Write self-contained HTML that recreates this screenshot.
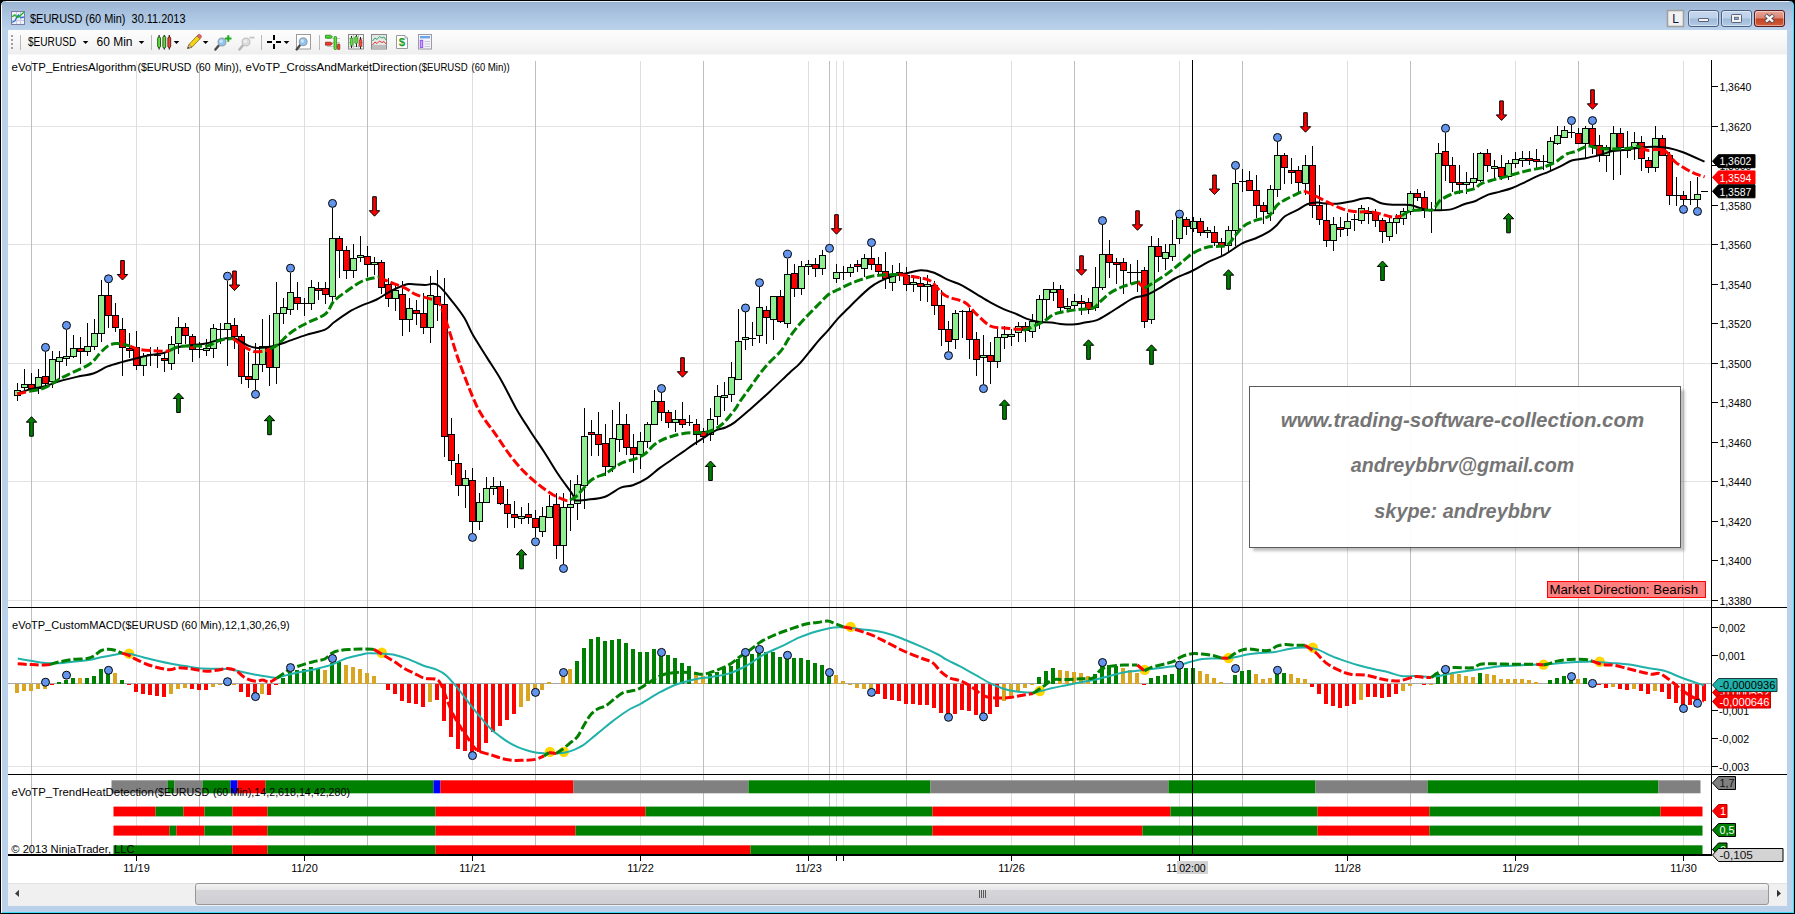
<!DOCTYPE html>
<html><head><meta charset="utf-8"><title>$EURUSD (60 Min)</title>
<style>html,body{margin:0;padding:0;background:#000;overflow:hidden}body{width:1795px;height:914px;font-family:"Liberation Sans",sans-serif}svg text{font-family:"Liberation Sans",sans-serif}</style>
</head><body>
<svg width="1795" height="914" viewBox="0 0 1795 914" style="display:block">
<defs>
<linearGradient id="gTitle" x1="0" y1="0" x2="0" y2="1"><stop offset="0" stop-color="#98b2d0"/><stop offset="0.45" stop-color="#a9c3e0"/><stop offset="1" stop-color="#bcd3ec"/></linearGradient>
<linearGradient id="gTool" x1="0" y1="0" x2="0" y2="1"><stop offset="0" stop-color="#fdfdfd"/><stop offset="0.5" stop-color="#f7f7f7"/><stop offset="1" stop-color="#eeeeee"/></linearGradient>
<linearGradient id="gBtn" x1="0" y1="0" x2="0" y2="1"><stop offset="0" stop-color="#c6d8ee"/><stop offset="0.48" stop-color="#bdd1ea"/><stop offset="0.52" stop-color="#9fbad8"/><stop offset="1" stop-color="#b4cbe6"/></linearGradient>
<linearGradient id="gClose" x1="0" y1="0" x2="0" y2="1"><stop offset="0" stop-color="#e8a898"/><stop offset="0.48" stop-color="#d98472"/><stop offset="0.52" stop-color="#c4421f"/><stop offset="1" stop-color="#d0603c"/></linearGradient>
<linearGradient id="gThumb" x1="0" y1="0" x2="0" y2="1"><stop offset="0" stop-color="#f4f4f4"/><stop offset="0.3" stop-color="#e6e6e8"/><stop offset="0.32" stop-color="#d6d6d9"/><stop offset="1" stop-color="#cfcfd3"/></linearGradient>
<filter id="blur1" x="-5%" y="-5%" width="110%" height="110%"><feGaussianBlur stdDeviation="1.5"/></filter>
<clipPath id="clipChart"><rect x="8" y="54" width="1704" height="802"/></clipPath>
</defs>
<rect x="0" y="0" width="1795" height="914" fill="#000"/>
<path d="M1,913 L1,6 Q1,1 6,1 L1789,1 Q1794,1 1794,6 L1794,913 Z" fill="#3bdcfa"/>
<path d="M1,912 L1,6 Q1,1 6,1 L1788,1 Q1793,1 1793,6 L1793,912 Z" fill="#b9d1ea"/>
<rect x="1" y="912" width="1793" height="1" fill="#3bdcfa" shape-rendering="crispEdges"/>
<rect x="1793" y="10" width="1" height="903" fill="#3bdcfa" shape-rendering="crispEdges"/>
<path d="M1,31 L1,6 Q1,1 6,1 L1788,1 Q1793,1 1793,6 L1793,31 Z" fill="url(#gTitle)"/>
<rect x="1793" y="10" width="1" height="22" fill="#3bdcfa" opacity="0.8" shape-rendering="crispEdges"/>
<rect x="6" y="1" width="1783" height="1" fill="#e4ecf5" shape-rendering="crispEdges"/>
<rect x="1" y="5" width="1" height="908" fill="#fbfdff" shape-rendering="crispEdges"/>
<rect x="8" y="30" width="1779" height="876" fill="#fff" shape-rendering="crispEdges"/>
<rect x="8" y="30" width="1779" height="24.5" fill="url(#gTool)"/>
<g shape-rendering="crispEdges"><rect x="11.5" y="11.5" width="13" height="13" fill="#eef0fa" stroke="#7c7ca0" stroke-width="1"/><path d="M12,16.5H24 M12,20.5H24 M16.5,12V24 M20.5,12V24" stroke="#c9cbe4" stroke-width="1"/></g><path d="M12,22.5 L15,20.8 L16.8,17 L18.5,15 L20.8,17.8 L24,17.2" fill="none" stroke="#2a6fd6" stroke-width="1.3"/><path d="M12,16.8 L14.8,14.8 L17.8,17.5 L20.5,15.2 L24,12.3" fill="none" stroke="#22b322" stroke-width="1.4"/>
<text x="30" y="22.7" font-size="12" fill="#000" textLength="155.5" lengthAdjust="spacingAndGlyphs" xml:space="preserve">$EURUSD (60 Min)  30.11.2013</text>
<rect x="1667.5" y="10.5" width="16" height="16" fill="#f0f0f0" stroke="#a0a0a0" stroke-width="1.6"/>
<text x="1675.5" y="23" font-size="12" fill="#101040" text-anchor="middle" >L</text>
<rect x="1688.5" y="10.5" width="30" height="16" rx="2.5" fill="url(#gBtn)" stroke="#4d5f7f" stroke-width="1"/>
<rect x="1689.5" y="11.5" width="28" height="14" rx="2" fill="none" stroke="#fff" stroke-opacity="0.45" stroke-width="1"/>
<rect x="1698.5" y="18.5" width="10" height="3" rx="0.5" fill="#f4f4f4" stroke="#4a556b" stroke-width="0.9"/>
<rect x="1721.5" y="10.5" width="30" height="16" rx="2.5" fill="url(#gBtn)" stroke="#4d5f7f" stroke-width="1"/>
<rect x="1722.5" y="11.5" width="28" height="14" rx="2" fill="none" stroke="#fff" stroke-opacity="0.45" stroke-width="1"/>
<rect x="1731.5" y="14.5" width="10" height="8" rx="0.8" fill="#f4f4f4" stroke="#4a556b" stroke-width="0.9"/><rect x="1734.5" y="17.2" width="4" height="2.4" fill="#8aa6c8" stroke="#4a556b" stroke-width="0.7"/>
<rect x="1754.5" y="10.5" width="30" height="16" rx="2.5" fill="url(#gClose)" stroke="#5a1a22" stroke-width="1"/>
<rect x="1755.5" y="11.5" width="28" height="14" rx="2" fill="none" stroke="#fff" stroke-opacity="0.45" stroke-width="1"/>
<path d="M1765.6,15 L1773.4,22 M1773.4,15 L1765.6,22" stroke="#4a4a55" stroke-width="4.2" stroke-linecap="butt"/><path d="M1766,15.4 L1773,21.6 M1773,15.4 L1766,21.6" stroke="#f6f6f6" stroke-width="2.5" stroke-linecap="butt"/>
<g fill="#a0a0a0" shape-rendering="crispEdges"><rect x="11" y="35" width="2" height="2"/><rect x="11" y="39" width="2" height="2"/><rect x="11" y="43" width="2" height="2"/><rect x="11" y="47" width="2" height="2"/></g>
<rect x="20" y="35" width="1" height="15" fill="#b8b8b8" shape-rendering="crispEdges"/>
<text x="28" y="45.7" font-size="12" fill="#000" textLength="48.2" lengthAdjust="spacingAndGlyphs" >$EURUSD</text>
<path d="M82.8,41 L88.39999999999999,41 L85.6,44 Z" fill="#000"/>
<text x="96.5" y="45.7" font-size="12" fill="#000" textLength="36" lengthAdjust="spacingAndGlyphs" >60 Min</text>
<path d="M138.7,41 L144.3,41 L141.5,44 Z" fill="#000"/>
<rect x="151" y="35" width="1" height="15" fill="#b8b8b8" shape-rendering="crispEdges"/>
<g><path d="M159.1,35V49.6 M164.3,35V49.6 M169.3,35V49.6" stroke="#222" stroke-width="1.2"/></g><rect x="157.7" y="37" width="2.8" height="10.5" rx="1.2" fill="#5fe03a" stroke="#1d4a10" stroke-width="0.9"/><rect x="162.9" y="36.2" width="2.8" height="11.8" rx="1.2" fill="#5fe03a" stroke="#1d4a10" stroke-width="0.9"/><rect x="167.9" y="37" width="2.8" height="10.5" rx="1.2" fill="#f04a3a" stroke="#5a1a10" stroke-width="0.9"/>
<path d="M173.7,41 L179.3,41 L176.5,44 Z" fill="#000"/>
<path d="M187.5,48.5 L189,44.5 L197,35.8 L200.2,38.6 L192,47.2 Z" fill="#f5d418" stroke="#8a6a10" stroke-width="0.8"/><path d="M197,35.8 L198.3,34.6 Q199.5,33.8 200.6,35 L201.4,36 Q201.8,37.2 200.2,38.6 Z" fill="#e86a6a" stroke="#8a3a3a" stroke-width="0.6"/><path d="M187.5,48.5 L189,44.5 L192,47.2 Z" fill="#e8c9a0" stroke="#6a5a40" stroke-width="0.6"/><path d="M187.5,48.5 L188.2,46.8 L189.3,47.8 Z" fill="#333"/>
<path d="M202.79999999999998,41 L208.4,41 L205.6,44 Z" fill="#000"/>
<path d="M219.4,44.8 L215.4,49.6" stroke="#4a4a4a" stroke-width="2.4" stroke-linecap="round"/>
<circle cx="222" cy="42" r="3.9" fill="#8cc4f4" stroke="#9aa4ae" stroke-width="1.3"/>
<circle cx="221.2" cy="41.2" r="1.7" fill="#fff" opacity="0.55"/>
<path d="M228.3,35.3V41.7 M225.1,38.5H231.5" stroke="#1cab1c" stroke-width="2"/>
<path d="M243.4,44.8 L239.4,49.6" stroke="#b4b4b4" stroke-width="2.4" stroke-linecap="round"/>
<circle cx="246" cy="42" r="3.9" fill="#dcdcdc" stroke="#c4c4c4" stroke-width="1.3"/>
<circle cx="245.2" cy="41.2" r="1.7" fill="#fff" opacity="0.55"/>
<path d="M249.5,37.6H254.5" stroke="#c4c4c4" stroke-width="1.8"/>
<rect x="261" y="35" width="1" height="15" fill="#b8b8b8" shape-rendering="crispEdges"/>
<path d="M274,35.2V40 M274,44V48.8 M267.2,42H272 M276,42H280.8" stroke="#000" stroke-width="2" shape-rendering="crispEdges"/>
<path d="M283.7,41 L289.3,41 L286.5,44 Z" fill="#000"/>
<rect x="296.5" y="34.5" width="14" height="14.5" fill="#fff" stroke="#9a9a9a" stroke-width="1"/>
<path d="M300.59999999999997,44.599999999999994 L296.59999999999997,49.4" stroke="#4a4a4a" stroke-width="2.4" stroke-linecap="round"/>
<circle cx="303.2" cy="41.8" r="3.9" fill="#8cc4f4" stroke="#9aa4ae" stroke-width="1.3"/>
<circle cx="302.4" cy="41.0" r="1.7" fill="#fff" opacity="0.55"/>
<rect x="319" y="35" width="1" height="15" fill="#b8b8b8" shape-rendering="crispEdges"/>
<g shape-rendering="crispEdges"><path d="M327,38.5H340 M327,42.5H340 M327,46.5H340" stroke="#c8c8c8" stroke-width="1"/></g><path d="M325.5,35.2 H330.5 L332.5,36.7 L330.5,38.2 H325.5 Z" fill="#40d62c" stroke="#1d7a10" stroke-width="0.7"/><path d="M325.5,42.2 H330.5 L332.5,43.7 L330.5,45.2 H325.5 Z" fill="#f03a2a" stroke="#8a1a10" stroke-width="0.7"/><rect x="334" y="36.5" width="2.6" height="13" rx="0.8" fill="#5fe03a" stroke="#1d7a10" stroke-width="0.7"/><rect x="337.6" y="44" width="2.2" height="5.5" rx="0.6" fill="#f04a3a" stroke="#8a1a10" stroke-width="0.7"/>
<rect x="348.5" y="34.5" width="15" height="14.5" fill="#f2f2f2" stroke="#8a8a8a" stroke-width="1"/><g shape-rendering="crispEdges"><path d="M349,38.5H363 M349,42.5H363 M349,46.5H363 M353.5,35V49 M358.5,35V49" stroke="#c4c4c4" stroke-width="1"/><path d="M351.5,36V48 M356,35V47 M360.5,37V49" stroke="#222" stroke-width="1"/></g><rect x="350.3" y="38" width="2.6" height="7.5" rx="0.8" fill="#5fe03a" stroke="#1d7a10" stroke-width="0.6"/><rect x="354.8" y="36.5" width="2.6" height="7" rx="0.8" fill="#5fe03a" stroke="#1d7a10" stroke-width="0.6"/><rect x="359.3" y="39.5" width="2.6" height="7" rx="0.8" fill="#f04a3a" stroke="#8a1a10" stroke-width="0.6"/>
<rect x="371.5" y="34.5" width="15" height="14.5" fill="#e6e6e6" stroke="#8a8a8a" stroke-width="1"/><rect x="372" y="45" width="14" height="3.5" fill="#bcbcbc"/><path d="M372.5,41 L375,38 L377,39.5 L379.5,36.5 L382,38 L384,37 L386,40" fill="none" stroke="#2db06a" stroke-width="1"/><path d="M372.5,45 L375,42 L377,43.5 L379.5,41 L382,42.5 L384,41.5 L386,44" fill="none" stroke="#e03a3a" stroke-width="1"/>
<path d="M396.5,35.5 H405 L407.5,38 V48.5 H396.5 Z" fill="#fff" stroke="#9a9a9a" stroke-width="1"/><path d="M405,35.5 V38 H407.5" fill="#e8e8e8" stroke="#9a9a9a" stroke-width="0.8"/>
<text x="402" y="46.3" font-size="11.5" fill="#1c9a1c" text-anchor="middle" font-weight="bold" >$</text>
<rect x="418.5" y="34.5" width="13" height="14.5" fill="#f4f4f8" stroke="#9a9aa8" stroke-width="1"/><rect x="420" y="36" width="10" height="2.4" fill="#6aa6e6"/><rect x="420.3" y="40.3" width="2.4" height="7.2" fill="#c8a8ff" stroke="#8a4af0" stroke-width="0.9"/><path d="M424.5,41.5H430 M424.5,44H430 M424.5,46.5H430" stroke="#c8c8d4" stroke-width="1"/>
<g shape-rendering="crispEdges">
<path d="M8,126.5H1711.5" stroke="#e2e2e2" stroke-width="1"/>
<path d="M8,244.5H1711.5" stroke="#e2e2e2" stroke-width="1"/>
<path d="M8,363.5H1711.5" stroke="#e2e2e2" stroke-width="1"/>
<path d="M8,481.5H1711.5" stroke="#e2e2e2" stroke-width="1"/>
<path d="M8,600.5H1711.5" stroke="#e2e2e2" stroke-width="1"/>
<path d="M8,683.5H1711.5" stroke="#a8a8a8" stroke-width="1"/>
<path d="M8,766.5H1711.5" stroke="#e2e2e2" stroke-width="1"/>
<path d="M136.5,61V854" stroke="#dedede" stroke-width="1"/>
<path d="M304.5,61V854" stroke="#dedede" stroke-width="1"/>
<path d="M472.5,61V854" stroke="#dedede" stroke-width="1"/>
<path d="M640.5,61V854" stroke="#dedede" stroke-width="1"/>
<path d="M808.5,61V854" stroke="#dedede" stroke-width="1"/>
<path d="M1011.5,61V854" stroke="#dedede" stroke-width="1"/>
<path d="M1179.5,61V854" stroke="#dedede" stroke-width="1"/>
<path d="M1347.5,61V854" stroke="#dedede" stroke-width="1"/>
<path d="M1515.5,61V854" stroke="#dedede" stroke-width="1"/>
<path d="M1683.5,61V854" stroke="#dedede" stroke-width="1"/>
<path d="M836.5,61V854" stroke="#dedede" stroke-width="1"/>
<path d="M843.5,61V854" stroke="#dedede" stroke-width="1"/>
<path d="M31.5,61V854" stroke="#bebebe" stroke-width="1"/>
<path d="M199.5,61V854" stroke="#bebebe" stroke-width="1"/>
<path d="M367.5,61V854" stroke="#bebebe" stroke-width="1"/>
<path d="M535.5,61V854" stroke="#bebebe" stroke-width="1"/>
<path d="M703.5,61V854" stroke="#bebebe" stroke-width="1"/>
<path d="M829.5,61V854" stroke="#bebebe" stroke-width="1"/>
<path d="M906.5,61V854" stroke="#bebebe" stroke-width="1"/>
<path d="M1074.5,61V854" stroke="#bebebe" stroke-width="1"/>
<path d="M1242.5,61V854" stroke="#bebebe" stroke-width="1"/>
<path d="M1410.5,61V854" stroke="#bebebe" stroke-width="1"/>
<path d="M1578.5,61V854" stroke="#bebebe" stroke-width="1"/>
</g>
<g id="price">
<g shape-rendering="crispEdges">
<path d="M17.5,383V401" stroke="#000" stroke-width="1"/>
<rect x="14.5" y="390.5" width="6" height="5.0" fill="#90ee90" stroke="#000" stroke-width="1"/>
<path d="M24.5,369V390" stroke="#000" stroke-width="1"/>
<rect x="21.5" y="384.5" width="6" height="3.0" fill="#90ee90" stroke="#000" stroke-width="1"/>
<path d="M31.5,373V392" stroke="#000" stroke-width="1"/>
<rect x="28.5" y="384.5" width="6" height="4.0" fill="#ff0000" stroke="#000" stroke-width="1"/>
<path d="M38.5,369V394" stroke="#000" stroke-width="1"/>
<rect x="35.5" y="377.5" width="6" height="11.0" fill="#90ee90" stroke="#000" stroke-width="1"/>
<path d="M45.5,352V388" stroke="#000" stroke-width="1"/>
<rect x="42.5" y="376.5" width="6" height="7.0" fill="#ff0000" stroke="#000" stroke-width="1"/>
<path d="M52.5,351V388" stroke="#000" stroke-width="1"/>
<rect x="49.5" y="359.5" width="6" height="22.0" fill="#90ee90" stroke="#000" stroke-width="1"/>
<path d="M59.5,351V379" stroke="#000" stroke-width="1"/>
<rect x="56.5" y="357.5" width="6" height="4.0" fill="#90ee90" stroke="#000" stroke-width="1"/>
<path d="M66.5,330V366" stroke="#000" stroke-width="1"/>
<rect x="63.5" y="356.5" width="6" height="2.0" fill="#90ee90" stroke="#000" stroke-width="1"/>
<path d="M73.5,335V358" stroke="#000" stroke-width="1"/>
<rect x="70.5" y="348.5" width="6" height="8.0" fill="#90ee90" stroke="#000" stroke-width="1"/>
<path d="M80.5,337V364" stroke="#000" stroke-width="1"/>
<rect x="77.5" y="348.5" width="6" height="3.0" fill="#ff0000" stroke="#000" stroke-width="1"/>
<path d="M87.5,323V356" stroke="#000" stroke-width="1"/>
<rect x="84.5" y="346.5" width="6" height="5.0" fill="#90ee90" stroke="#000" stroke-width="1"/>
<path d="M94.5,319V350" stroke="#000" stroke-width="1"/>
<rect x="91.5" y="333.5" width="6" height="13.0" fill="#90ee90" stroke="#000" stroke-width="1"/>
<path d="M101.5,280V342" stroke="#000" stroke-width="1"/>
<rect x="98.5" y="295.5" width="6" height="38.0" fill="#90ee90" stroke="#000" stroke-width="1"/>
<path d="M108.5,283V328" stroke="#000" stroke-width="1"/>
<rect x="105.5" y="295.5" width="6" height="20.0" fill="#ff0000" stroke="#000" stroke-width="1"/>
<path d="M115.5,303V332" stroke="#000" stroke-width="1"/>
<rect x="112.5" y="315.5" width="6" height="12.0" fill="#ff0000" stroke="#000" stroke-width="1"/>
<path d="M122.5,318V376" stroke="#000" stroke-width="1"/>
<rect x="119.5" y="329.5" width="6" height="18.0" fill="#ff0000" stroke="#000" stroke-width="1"/>
<path d="M129.5,333V358" stroke="#000" stroke-width="1"/>
<rect x="126.5" y="348.5" width="6" height="2.0" fill="#ff0000" stroke="#000" stroke-width="1"/>
<path d="M136.5,331V370" stroke="#000" stroke-width="1"/>
<rect x="133.5" y="347.5" width="6" height="18.0" fill="#ff0000" stroke="#000" stroke-width="1"/>
<path d="M143.5,353V376" stroke="#000" stroke-width="1"/>
<rect x="140.5" y="356.5" width="6" height="9.0" fill="#90ee90" stroke="#000" stroke-width="1"/>
<path d="M150.5,347V366" stroke="#000" stroke-width="1"/>
<path d="M147.0,354.5H154.0" stroke="#000" stroke-width="1"/>
<path d="M157.5,347V368" stroke="#000" stroke-width="1"/>
<path d="M154.0,355.5H161.0" stroke="#000" stroke-width="1"/>
<path d="M164.5,352V372" stroke="#000" stroke-width="1"/>
<rect x="161.5" y="358.5" width="6" height="2.0" fill="#ff0000" stroke="#000" stroke-width="1"/>
<path d="M171.5,336V370" stroke="#000" stroke-width="1"/>
<rect x="168.5" y="344.5" width="6" height="19.0" fill="#90ee90" stroke="#000" stroke-width="1"/>
<path d="M178.5,317V354" stroke="#000" stroke-width="1"/>
<rect x="175.5" y="327.5" width="6" height="16.0" fill="#90ee90" stroke="#000" stroke-width="1"/>
<path d="M185.5,323V344" stroke="#000" stroke-width="1"/>
<rect x="182.5" y="327.5" width="6" height="8.0" fill="#ff0000" stroke="#000" stroke-width="1"/>
<path d="M192.5,334V362" stroke="#000" stroke-width="1"/>
<rect x="189.5" y="336.5" width="6" height="13.0" fill="#ff0000" stroke="#000" stroke-width="1"/>
<path d="M199.5,342V358" stroke="#000" stroke-width="1"/>
<path d="M196.0,349.5H203.0" stroke="#000" stroke-width="1"/>
<path d="M206.5,339V356" stroke="#000" stroke-width="1"/>
<rect x="203.5" y="348.5" width="6" height="2.0" fill="#90ee90" stroke="#000" stroke-width="1"/>
<path d="M213.5,324V358" stroke="#000" stroke-width="1"/>
<rect x="210.5" y="328.5" width="6" height="20.0" fill="#90ee90" stroke="#000" stroke-width="1"/>
<path d="M220.5,323V344" stroke="#000" stroke-width="1"/>
<path d="M217.0,329.5H224.0" stroke="#000" stroke-width="1"/>
<path d="M227.5,281V366" stroke="#000" stroke-width="1"/>
<rect x="224.5" y="323.5" width="6" height="6.0" fill="#90ee90" stroke="#000" stroke-width="1"/>
<path d="M234.5,318V349" stroke="#000" stroke-width="1"/>
<rect x="231.5" y="325.5" width="6" height="11.0" fill="#ff0000" stroke="#000" stroke-width="1"/>
<path d="M241.5,334V384" stroke="#000" stroke-width="1"/>
<rect x="238.5" y="336.5" width="6" height="40.0" fill="#ff0000" stroke="#000" stroke-width="1"/>
<path d="M248.5,352V388" stroke="#000" stroke-width="1"/>
<rect x="245.5" y="376.5" width="6" height="3.0" fill="#ff0000" stroke="#000" stroke-width="1"/>
<path d="M255.5,343V390" stroke="#000" stroke-width="1"/>
<rect x="252.5" y="364.5" width="6" height="15.0" fill="#90ee90" stroke="#000" stroke-width="1"/>
<path d="M262.5,319V372" stroke="#000" stroke-width="1"/>
<rect x="259.5" y="346.5" width="6" height="18.0" fill="#90ee90" stroke="#000" stroke-width="1"/>
<path d="M269.5,315V386" stroke="#000" stroke-width="1"/>
<rect x="266.5" y="346.5" width="6" height="21.0" fill="#ff0000" stroke="#000" stroke-width="1"/>
<path d="M276.5,282V384" stroke="#000" stroke-width="1"/>
<rect x="273.5" y="313.5" width="6" height="54.0" fill="#90ee90" stroke="#000" stroke-width="1"/>
<path d="M283.5,298V324" stroke="#000" stroke-width="1"/>
<rect x="280.5" y="307.5" width="6" height="6.0" fill="#90ee90" stroke="#000" stroke-width="1"/>
<path d="M290.5,273V315" stroke="#000" stroke-width="1"/>
<rect x="287.5" y="292.5" width="6" height="17.0" fill="#90ee90" stroke="#000" stroke-width="1"/>
<path d="M297.5,282V310" stroke="#000" stroke-width="1"/>
<rect x="294.5" y="297.5" width="6" height="6.0" fill="#ff0000" stroke="#000" stroke-width="1"/>
<path d="M304.5,298V316" stroke="#000" stroke-width="1"/>
<path d="M301.0,303.5H308.0" stroke="#000" stroke-width="1"/>
<path d="M311.5,280V310" stroke="#000" stroke-width="1"/>
<rect x="308.5" y="287.5" width="6" height="16.0" fill="#90ee90" stroke="#000" stroke-width="1"/>
<path d="M318.5,282V300" stroke="#000" stroke-width="1"/>
<rect x="315.5" y="288.5" width="6" height="2.0" fill="#ff0000" stroke="#000" stroke-width="1"/>
<path d="M325.5,282V304" stroke="#000" stroke-width="1"/>
<rect x="322.5" y="288.5" width="6" height="6.0" fill="#ff0000" stroke="#000" stroke-width="1"/>
<path d="M332.5,208V302" stroke="#000" stroke-width="1"/>
<rect x="329.5" y="238.5" width="6" height="58.0" fill="#90ee90" stroke="#000" stroke-width="1"/>
<path d="M339.5,236V278" stroke="#000" stroke-width="1"/>
<rect x="336.5" y="238.5" width="6" height="12.0" fill="#ff0000" stroke="#000" stroke-width="1"/>
<path d="M346.5,246V279" stroke="#000" stroke-width="1"/>
<rect x="343.5" y="250.5" width="6" height="20.0" fill="#ff0000" stroke="#000" stroke-width="1"/>
<path d="M353.5,244V278" stroke="#000" stroke-width="1"/>
<rect x="350.5" y="258.5" width="6" height="12.0" fill="#90ee90" stroke="#000" stroke-width="1"/>
<path d="M360.5,236V262" stroke="#000" stroke-width="1"/>
<rect x="357.5" y="255.5" width="6" height="2.0" fill="#90ee90" stroke="#000" stroke-width="1"/>
<path d="M367.5,246V277" stroke="#000" stroke-width="1"/>
<rect x="364.5" y="256.5" width="6" height="8.0" fill="#ff0000" stroke="#000" stroke-width="1"/>
<path d="M374.5,257V275" stroke="#000" stroke-width="1"/>
<rect x="371.5" y="262.5" width="6" height="2.0" fill="#90ee90" stroke="#000" stroke-width="1"/>
<path d="M381.5,260V294" stroke="#000" stroke-width="1"/>
<rect x="378.5" y="262.5" width="6" height="25.0" fill="#ff0000" stroke="#000" stroke-width="1"/>
<path d="M388.5,278V307" stroke="#000" stroke-width="1"/>
<rect x="385.5" y="284.5" width="6" height="14.0" fill="#ff0000" stroke="#000" stroke-width="1"/>
<path d="M395.5,285V311" stroke="#000" stroke-width="1"/>
<rect x="392.5" y="290.5" width="6" height="8.0" fill="#90ee90" stroke="#000" stroke-width="1"/>
<path d="M402.5,281V336" stroke="#000" stroke-width="1"/>
<rect x="399.5" y="294.5" width="6" height="25.0" fill="#ff0000" stroke="#000" stroke-width="1"/>
<path d="M409.5,298V332" stroke="#000" stroke-width="1"/>
<rect x="406.5" y="308.5" width="6" height="11.0" fill="#90ee90" stroke="#000" stroke-width="1"/>
<path d="M416.5,300V325" stroke="#000" stroke-width="1"/>
<rect x="413.5" y="310.5" width="6" height="3.0" fill="#ff0000" stroke="#000" stroke-width="1"/>
<path d="M423.5,293V334" stroke="#000" stroke-width="1"/>
<rect x="420.5" y="313.5" width="6" height="14.0" fill="#ff0000" stroke="#000" stroke-width="1"/>
<path d="M430.5,276V343" stroke="#000" stroke-width="1"/>
<rect x="427.5" y="295.5" width="6" height="32.0" fill="#90ee90" stroke="#000" stroke-width="1"/>
<path d="M437.5,270V321" stroke="#000" stroke-width="1"/>
<rect x="434.5" y="296.5" width="6" height="8.0" fill="#ff0000" stroke="#000" stroke-width="1"/>
<path d="M444.5,278V457" stroke="#000" stroke-width="1"/>
<rect x="441.5" y="304.5" width="6" height="132.0" fill="#ff0000" stroke="#000" stroke-width="1"/>
<path d="M451.5,418V475" stroke="#000" stroke-width="1"/>
<rect x="448.5" y="434.5" width="6" height="26.0" fill="#ff0000" stroke="#000" stroke-width="1"/>
<path d="M458.5,454V496" stroke="#000" stroke-width="1"/>
<rect x="455.5" y="463.5" width="6" height="22.0" fill="#ff0000" stroke="#000" stroke-width="1"/>
<path d="M465.5,470V508" stroke="#000" stroke-width="1"/>
<rect x="462.5" y="478.5" width="6" height="7.0" fill="#90ee90" stroke="#000" stroke-width="1"/>
<path d="M472.5,468V533" stroke="#000" stroke-width="1"/>
<rect x="469.5" y="480.5" width="6" height="41.0" fill="#ff0000" stroke="#000" stroke-width="1"/>
<path d="M479.5,493V530" stroke="#000" stroke-width="1"/>
<rect x="476.5" y="502.5" width="6" height="19.0" fill="#90ee90" stroke="#000" stroke-width="1"/>
<path d="M486.5,477V503" stroke="#000" stroke-width="1"/>
<rect x="483.5" y="488.5" width="6" height="14.0" fill="#90ee90" stroke="#000" stroke-width="1"/>
<path d="M493.5,477V495" stroke="#000" stroke-width="1"/>
<rect x="490.5" y="486.5" width="6" height="2.0" fill="#90ee90" stroke="#000" stroke-width="1"/>
<path d="M500.5,481V505" stroke="#000" stroke-width="1"/>
<rect x="497.5" y="486.5" width="6" height="17.0" fill="#ff0000" stroke="#000" stroke-width="1"/>
<path d="M507.5,489V528" stroke="#000" stroke-width="1"/>
<rect x="504.5" y="504.5" width="6" height="9.0" fill="#ff0000" stroke="#000" stroke-width="1"/>
<path d="M514.5,501V528" stroke="#000" stroke-width="1"/>
<rect x="511.5" y="514.5" width="6" height="3.0" fill="#ff0000" stroke="#000" stroke-width="1"/>
<path d="M521.5,507V524" stroke="#000" stroke-width="1"/>
<rect x="518.5" y="516.5" width="6" height="2.0" fill="#90ee90" stroke="#000" stroke-width="1"/>
<path d="M528.5,503V524" stroke="#000" stroke-width="1"/>
<rect x="525.5" y="514.5" width="6" height="3.0" fill="#ff0000" stroke="#000" stroke-width="1"/>
<path d="M535.5,510V537" stroke="#000" stroke-width="1"/>
<rect x="532.5" y="518.5" width="6" height="9.0" fill="#ff0000" stroke="#000" stroke-width="1"/>
<path d="M542.5,507V537" stroke="#000" stroke-width="1"/>
<rect x="539.5" y="516.5" width="6" height="15.0" fill="#90ee90" stroke="#000" stroke-width="1"/>
<path d="M549.5,495V518" stroke="#000" stroke-width="1"/>
<rect x="546.5" y="506.5" width="6" height="11.0" fill="#90ee90" stroke="#000" stroke-width="1"/>
<path d="M556.5,493V559" stroke="#000" stroke-width="1"/>
<rect x="553.5" y="504.5" width="6" height="41.0" fill="#ff0000" stroke="#000" stroke-width="1"/>
<path d="M563.5,493V564" stroke="#000" stroke-width="1"/>
<rect x="560.5" y="507.5" width="6" height="38.0" fill="#90ee90" stroke="#000" stroke-width="1"/>
<path d="M570.5,480V531" stroke="#000" stroke-width="1"/>
<rect x="567.5" y="504.5" width="6" height="3.0" fill="#90ee90" stroke="#000" stroke-width="1"/>
<path d="M577.5,475V520" stroke="#000" stroke-width="1"/>
<rect x="574.5" y="484.5" width="6" height="19.0" fill="#90ee90" stroke="#000" stroke-width="1"/>
<path d="M584.5,408V509" stroke="#000" stroke-width="1"/>
<rect x="581.5" y="436.5" width="6" height="49.0" fill="#90ee90" stroke="#000" stroke-width="1"/>
<path d="M591.5,420V456" stroke="#000" stroke-width="1"/>
<rect x="588.5" y="432.5" width="6" height="2.0" fill="#ff0000" stroke="#000" stroke-width="1"/>
<path d="M598.5,412V456" stroke="#000" stroke-width="1"/>
<rect x="595.5" y="434.5" width="6" height="10.0" fill="#ff0000" stroke="#000" stroke-width="1"/>
<path d="M605.5,424V476" stroke="#000" stroke-width="1"/>
<rect x="602.5" y="443.5" width="6" height="23.0" fill="#ff0000" stroke="#000" stroke-width="1"/>
<path d="M612.5,410V472" stroke="#000" stroke-width="1"/>
<rect x="609.5" y="438.5" width="6" height="28.0" fill="#90ee90" stroke="#000" stroke-width="1"/>
<path d="M619.5,402V452" stroke="#000" stroke-width="1"/>
<rect x="616.5" y="424.5" width="6" height="15.0" fill="#90ee90" stroke="#000" stroke-width="1"/>
<path d="M626.5,414V455" stroke="#000" stroke-width="1"/>
<rect x="623.5" y="424.5" width="6" height="23.0" fill="#ff0000" stroke="#000" stroke-width="1"/>
<path d="M633.5,434V473" stroke="#000" stroke-width="1"/>
<rect x="630.5" y="447.5" width="6" height="7.0" fill="#ff0000" stroke="#000" stroke-width="1"/>
<path d="M640.5,432V469" stroke="#000" stroke-width="1"/>
<rect x="637.5" y="441.5" width="6" height="13.0" fill="#90ee90" stroke="#000" stroke-width="1"/>
<path d="M647.5,422V448" stroke="#000" stroke-width="1"/>
<rect x="644.5" y="424.5" width="6" height="17.0" fill="#90ee90" stroke="#000" stroke-width="1"/>
<path d="M654.5,390V425" stroke="#000" stroke-width="1"/>
<rect x="651.5" y="401.5" width="6" height="23.0" fill="#90ee90" stroke="#000" stroke-width="1"/>
<path d="M661.5,393V421" stroke="#000" stroke-width="1"/>
<rect x="658.5" y="401.5" width="6" height="11.0" fill="#ff0000" stroke="#000" stroke-width="1"/>
<path d="M668.5,410V428" stroke="#000" stroke-width="1"/>
<rect x="665.5" y="412.5" width="6" height="10.0" fill="#ff0000" stroke="#000" stroke-width="1"/>
<path d="M675.5,410V432" stroke="#000" stroke-width="1"/>
<rect x="672.5" y="419.5" width="6" height="3.0" fill="#90ee90" stroke="#000" stroke-width="1"/>
<path d="M682.5,402V428" stroke="#000" stroke-width="1"/>
<rect x="679.5" y="419.5" width="6" height="5.0" fill="#ff0000" stroke="#000" stroke-width="1"/>
<path d="M689.5,415V426" stroke="#000" stroke-width="1"/>
<path d="M686.0,422.5H693.0" stroke="#000" stroke-width="1"/>
<path d="M696.5,419V445" stroke="#000" stroke-width="1"/>
<rect x="693.5" y="424.5" width="6" height="10.0" fill="#ff0000" stroke="#000" stroke-width="1"/>
<path d="M703.5,428V443" stroke="#000" stroke-width="1"/>
<rect x="700.5" y="431.5" width="6" height="5.0" fill="#ff0000" stroke="#000" stroke-width="1"/>
<path d="M710.5,408V441" stroke="#000" stroke-width="1"/>
<rect x="707.5" y="419.5" width="6" height="15.0" fill="#90ee90" stroke="#000" stroke-width="1"/>
<path d="M717.5,385V425" stroke="#000" stroke-width="1"/>
<rect x="714.5" y="396.5" width="6" height="20.0" fill="#90ee90" stroke="#000" stroke-width="1"/>
<path d="M724.5,382V411" stroke="#000" stroke-width="1"/>
<rect x="721.5" y="395.5" width="6" height="2.0" fill="#90ee90" stroke="#000" stroke-width="1"/>
<path d="M731.5,362V402" stroke="#000" stroke-width="1"/>
<rect x="728.5" y="377.5" width="6" height="17.0" fill="#90ee90" stroke="#000" stroke-width="1"/>
<path d="M738.5,309V380" stroke="#000" stroke-width="1"/>
<rect x="735.5" y="341.5" width="6" height="38.0" fill="#90ee90" stroke="#000" stroke-width="1"/>
<path d="M745.5,312V350" stroke="#000" stroke-width="1"/>
<rect x="742.5" y="337.5" width="6" height="2.0" fill="#90ee90" stroke="#000" stroke-width="1"/>
<path d="M752.5,322V346" stroke="#000" stroke-width="1"/>
<path d="M749.0,338.5H756.0" stroke="#000" stroke-width="1"/>
<path d="M759.5,287V343" stroke="#000" stroke-width="1"/>
<rect x="756.5" y="307.5" width="6" height="28.0" fill="#90ee90" stroke="#000" stroke-width="1"/>
<path d="M766.5,306V344" stroke="#000" stroke-width="1"/>
<rect x="763.5" y="310.5" width="6" height="7.0" fill="#ff0000" stroke="#000" stroke-width="1"/>
<path d="M773.5,296V340" stroke="#000" stroke-width="1"/>
<rect x="770.5" y="296.5" width="6" height="23.0" fill="#90ee90" stroke="#000" stroke-width="1"/>
<path d="M780.5,290V323" stroke="#000" stroke-width="1"/>
<rect x="777.5" y="296.5" width="6" height="25.0" fill="#ff0000" stroke="#000" stroke-width="1"/>
<path d="M787.5,259V328" stroke="#000" stroke-width="1"/>
<rect x="784.5" y="274.5" width="6" height="49.0" fill="#90ee90" stroke="#000" stroke-width="1"/>
<path d="M794.5,264V297" stroke="#000" stroke-width="1"/>
<rect x="791.5" y="273.5" width="6" height="15.0" fill="#ff0000" stroke="#000" stroke-width="1"/>
<path d="M801.5,261V295" stroke="#000" stroke-width="1"/>
<rect x="798.5" y="266.5" width="6" height="22.0" fill="#90ee90" stroke="#000" stroke-width="1"/>
<path d="M808.5,260V275" stroke="#000" stroke-width="1"/>
<rect x="805.5" y="264.5" width="6" height="2.0" fill="#90ee90" stroke="#000" stroke-width="1"/>
<path d="M815.5,258V277" stroke="#000" stroke-width="1"/>
<rect x="812.5" y="264.5" width="6" height="4.0" fill="#ff0000" stroke="#000" stroke-width="1"/>
<path d="M822.5,250V275" stroke="#000" stroke-width="1"/>
<rect x="819.5" y="255.5" width="6" height="13.0" fill="#90ee90" stroke="#000" stroke-width="1"/>
<path d="M836.5,264V283" stroke="#000" stroke-width="1"/>
<rect x="833.5" y="272.5" width="6" height="6.0" fill="#90ee90" stroke="#000" stroke-width="1"/>
<path d="M843.5,266V280" stroke="#000" stroke-width="1"/>
<path d="M840.0,272.5H847.0" stroke="#000" stroke-width="1"/>
<path d="M850.5,264V277" stroke="#000" stroke-width="1"/>
<rect x="847.5" y="267.5" width="6" height="5.0" fill="#90ee90" stroke="#000" stroke-width="1"/>
<path d="M857.5,260V272" stroke="#000" stroke-width="1"/>
<rect x="854.5" y="264.5" width="6" height="2.0" fill="#ff0000" stroke="#000" stroke-width="1"/>
<path d="M864.5,254V277" stroke="#000" stroke-width="1"/>
<rect x="861.5" y="258.5" width="6" height="10.0" fill="#90ee90" stroke="#000" stroke-width="1"/>
<path d="M871.5,247V270" stroke="#000" stroke-width="1"/>
<rect x="868.5" y="258.5" width="6" height="6.0" fill="#ff0000" stroke="#000" stroke-width="1"/>
<path d="M878.5,257V274" stroke="#000" stroke-width="1"/>
<rect x="875.5" y="264.5" width="6" height="7.0" fill="#ff0000" stroke="#000" stroke-width="1"/>
<path d="M885.5,252V289" stroke="#000" stroke-width="1"/>
<rect x="882.5" y="271.5" width="6" height="7.0" fill="#ff0000" stroke="#000" stroke-width="1"/>
<path d="M892.5,265V291" stroke="#000" stroke-width="1"/>
<rect x="889.5" y="274.5" width="6" height="8.0" fill="#90ee90" stroke="#000" stroke-width="1"/>
<path d="M899.5,263V281" stroke="#000" stroke-width="1"/>
<rect x="896.5" y="272.5" width="6" height="3.0" fill="#ff0000" stroke="#000" stroke-width="1"/>
<path d="M906.5,267V291" stroke="#000" stroke-width="1"/>
<rect x="903.5" y="275.5" width="6" height="9.0" fill="#ff0000" stroke="#000" stroke-width="1"/>
<path d="M913.5,275V292" stroke="#000" stroke-width="1"/>
<rect x="910.5" y="282.5" width="6" height="2.0" fill="#90ee90" stroke="#000" stroke-width="1"/>
<path d="M920.5,277V301" stroke="#000" stroke-width="1"/>
<rect x="917.5" y="283.5" width="6" height="3.0" fill="#ff0000" stroke="#000" stroke-width="1"/>
<path d="M927.5,275V302" stroke="#000" stroke-width="1"/>
<rect x="924.5" y="284.5" width="6" height="2.0" fill="#90ee90" stroke="#000" stroke-width="1"/>
<path d="M934.5,281V315" stroke="#000" stroke-width="1"/>
<rect x="931.5" y="285.5" width="6" height="20.0" fill="#ff0000" stroke="#000" stroke-width="1"/>
<path d="M941.5,290V346" stroke="#000" stroke-width="1"/>
<rect x="938.5" y="305.5" width="6" height="24.0" fill="#ff0000" stroke="#000" stroke-width="1"/>
<path d="M948.5,321V351" stroke="#000" stroke-width="1"/>
<rect x="945.5" y="329.5" width="6" height="12.0" fill="#ff0000" stroke="#000" stroke-width="1"/>
<path d="M955.5,310V349" stroke="#000" stroke-width="1"/>
<rect x="952.5" y="313.5" width="6" height="26.0" fill="#90ee90" stroke="#000" stroke-width="1"/>
<path d="M962.5,310V338" stroke="#000" stroke-width="1"/>
<path d="M959.0,311.5H966.0" stroke="#000" stroke-width="1"/>
<path d="M969.5,308V359" stroke="#000" stroke-width="1"/>
<rect x="966.5" y="311.5" width="6" height="28.0" fill="#ff0000" stroke="#000" stroke-width="1"/>
<path d="M976.5,332V376" stroke="#000" stroke-width="1"/>
<rect x="973.5" y="339.5" width="6" height="20.0" fill="#ff0000" stroke="#000" stroke-width="1"/>
<path d="M983.5,335V384" stroke="#000" stroke-width="1"/>
<rect x="980.5" y="355.5" width="6" height="2.0" fill="#90ee90" stroke="#000" stroke-width="1"/>
<path d="M990.5,342V384" stroke="#000" stroke-width="1"/>
<rect x="987.5" y="355.5" width="6" height="6.0" fill="#ff0000" stroke="#000" stroke-width="1"/>
<path d="M997.5,329V368" stroke="#000" stroke-width="1"/>
<rect x="994.5" y="337.5" width="6" height="24.0" fill="#90ee90" stroke="#000" stroke-width="1"/>
<path d="M1004.5,326V349" stroke="#000" stroke-width="1"/>
<rect x="1001.5" y="334.5" width="6" height="3.0" fill="#90ee90" stroke="#000" stroke-width="1"/>
<path d="M1011.5,329V346" stroke="#000" stroke-width="1"/>
<rect x="1008.5" y="334.5" width="6" height="2.0" fill="#90ee90" stroke="#000" stroke-width="1"/>
<path d="M1018.5,322V342" stroke="#000" stroke-width="1"/>
<rect x="1015.5" y="326.5" width="6" height="6.0" fill="#90ee90" stroke="#000" stroke-width="1"/>
<path d="M1025.5,322V342" stroke="#000" stroke-width="1"/>
<rect x="1022.5" y="326.5" width="6" height="4.0" fill="#ff0000" stroke="#000" stroke-width="1"/>
<path d="M1032.5,314V338" stroke="#000" stroke-width="1"/>
<rect x="1029.5" y="321.5" width="6" height="10.0" fill="#90ee90" stroke="#000" stroke-width="1"/>
<path d="M1039.5,295V329" stroke="#000" stroke-width="1"/>
<rect x="1036.5" y="299.5" width="6" height="23.0" fill="#90ee90" stroke="#000" stroke-width="1"/>
<path d="M1046.5,289V318" stroke="#000" stroke-width="1"/>
<rect x="1043.5" y="289.5" width="6" height="10.0" fill="#90ee90" stroke="#000" stroke-width="1"/>
<path d="M1053.5,282V301" stroke="#000" stroke-width="1"/>
<rect x="1050.5" y="289.5" width="6" height="3.0" fill="#90ee90" stroke="#000" stroke-width="1"/>
<path d="M1060.5,285V311" stroke="#000" stroke-width="1"/>
<rect x="1057.5" y="289.5" width="6" height="18.0" fill="#ff0000" stroke="#000" stroke-width="1"/>
<path d="M1067.5,298V312" stroke="#000" stroke-width="1"/>
<rect x="1064.5" y="306.5" width="6" height="2.0" fill="#90ee90" stroke="#000" stroke-width="1"/>
<path d="M1074.5,294V309" stroke="#000" stroke-width="1"/>
<rect x="1071.5" y="301.5" width="6" height="4.0" fill="#90ee90" stroke="#000" stroke-width="1"/>
<path d="M1081.5,295V315" stroke="#000" stroke-width="1"/>
<rect x="1078.5" y="301.5" width="6" height="2.0" fill="#ff0000" stroke="#000" stroke-width="1"/>
<path d="M1088.5,298V314" stroke="#000" stroke-width="1"/>
<rect x="1085.5" y="302.5" width="6" height="7.0" fill="#ff0000" stroke="#000" stroke-width="1"/>
<path d="M1095.5,267V311" stroke="#000" stroke-width="1"/>
<rect x="1092.5" y="287.5" width="6" height="20.0" fill="#90ee90" stroke="#000" stroke-width="1"/>
<path d="M1102.5,225V290" stroke="#000" stroke-width="1"/>
<rect x="1099.5" y="254.5" width="6" height="33.0" fill="#90ee90" stroke="#000" stroke-width="1"/>
<path d="M1109.5,240V278" stroke="#000" stroke-width="1"/>
<rect x="1106.5" y="254.5" width="6" height="8.0" fill="#ff0000" stroke="#000" stroke-width="1"/>
<path d="M1116.5,258V284" stroke="#000" stroke-width="1"/>
<rect x="1113.5" y="262.5" width="6" height="2.0" fill="#ff0000" stroke="#000" stroke-width="1"/>
<path d="M1123.5,258V294" stroke="#000" stroke-width="1"/>
<rect x="1120.5" y="262.5" width="6" height="8.0" fill="#ff0000" stroke="#000" stroke-width="1"/>
<path d="M1130.5,264V284" stroke="#000" stroke-width="1"/>
<path d="M1127.0,272.5H1134.0" stroke="#000" stroke-width="1"/>
<path d="M1137.5,260V292" stroke="#000" stroke-width="1"/>
<path d="M1134.0,272.5H1141.0" stroke="#000" stroke-width="1"/>
<path d="M1144.5,267V328" stroke="#000" stroke-width="1"/>
<rect x="1141.5" y="270.5" width="6" height="51.0" fill="#ff0000" stroke="#000" stroke-width="1"/>
<path d="M1151.5,236V324" stroke="#000" stroke-width="1"/>
<rect x="1148.5" y="246.5" width="6" height="73.0" fill="#90ee90" stroke="#000" stroke-width="1"/>
<path d="M1158.5,238V272" stroke="#000" stroke-width="1"/>
<rect x="1155.5" y="246.5" width="6" height="10.0" fill="#ff0000" stroke="#000" stroke-width="1"/>
<path d="M1165.5,244V270" stroke="#000" stroke-width="1"/>
<rect x="1162.5" y="252.5" width="6" height="6.0" fill="#90ee90" stroke="#000" stroke-width="1"/>
<path d="M1172.5,220V261" stroke="#000" stroke-width="1"/>
<rect x="1169.5" y="244.5" width="6" height="12.0" fill="#90ee90" stroke="#000" stroke-width="1"/>
<path d="M1179.5,214V244" stroke="#000" stroke-width="1"/>
<rect x="1176.5" y="217.5" width="6" height="21.0" fill="#90ee90" stroke="#000" stroke-width="1"/>
<path d="M1186.5,217V235" stroke="#000" stroke-width="1"/>
<rect x="1183.5" y="219.5" width="6" height="7.0" fill="#ff0000" stroke="#000" stroke-width="1"/>
<path d="M1193.5,217V232" stroke="#000" stroke-width="1"/>
<rect x="1190.5" y="221.5" width="6" height="7.0" fill="#90ee90" stroke="#000" stroke-width="1"/>
<path d="M1200.5,218V236" stroke="#000" stroke-width="1"/>
<rect x="1197.5" y="221.5" width="6" height="11.0" fill="#ff0000" stroke="#000" stroke-width="1"/>
<path d="M1207.5,227V238" stroke="#000" stroke-width="1"/>
<rect x="1204.5" y="230.5" width="6" height="2.0" fill="#90ee90" stroke="#000" stroke-width="1"/>
<path d="M1214.5,226V246" stroke="#000" stroke-width="1"/>
<rect x="1211.5" y="232.5" width="6" height="10.0" fill="#ff0000" stroke="#000" stroke-width="1"/>
<path d="M1221.5,238V255" stroke="#000" stroke-width="1"/>
<rect x="1218.5" y="242.5" width="6" height="3.0" fill="#ff0000" stroke="#000" stroke-width="1"/>
<path d="M1228.5,226V252" stroke="#000" stroke-width="1"/>
<rect x="1225.5" y="230.5" width="6" height="15.0" fill="#90ee90" stroke="#000" stroke-width="1"/>
<path d="M1235.5,170V246" stroke="#000" stroke-width="1"/>
<rect x="1232.5" y="183.5" width="6" height="47.0" fill="#90ee90" stroke="#000" stroke-width="1"/>
<path d="M1242.5,169V192" stroke="#000" stroke-width="1"/>
<path d="M1239.0,181.5H1246.0" stroke="#000" stroke-width="1"/>
<path d="M1249.5,171V191" stroke="#000" stroke-width="1"/>
<rect x="1246.5" y="180.5" width="6" height="10.0" fill="#ff0000" stroke="#000" stroke-width="1"/>
<path d="M1256.5,175V218" stroke="#000" stroke-width="1"/>
<rect x="1253.5" y="190.5" width="6" height="15.0" fill="#ff0000" stroke="#000" stroke-width="1"/>
<path d="M1263.5,202V224" stroke="#000" stroke-width="1"/>
<rect x="1260.5" y="205.5" width="6" height="6.0" fill="#ff0000" stroke="#000" stroke-width="1"/>
<path d="M1270.5,185V221" stroke="#000" stroke-width="1"/>
<rect x="1267.5" y="189.5" width="6" height="24.0" fill="#90ee90" stroke="#000" stroke-width="1"/>
<path d="M1277.5,142V197" stroke="#000" stroke-width="1"/>
<rect x="1274.5" y="155.5" width="6" height="34.0" fill="#90ee90" stroke="#000" stroke-width="1"/>
<path d="M1284.5,153V184" stroke="#000" stroke-width="1"/>
<rect x="1281.5" y="155.5" width="6" height="12.0" fill="#ff0000" stroke="#000" stroke-width="1"/>
<path d="M1291.5,158V184" stroke="#000" stroke-width="1"/>
<rect x="1288.5" y="170.5" width="6" height="2.0" fill="#ff0000" stroke="#000" stroke-width="1"/>
<path d="M1298.5,166V192" stroke="#000" stroke-width="1"/>
<rect x="1295.5" y="170.5" width="6" height="12.0" fill="#ff0000" stroke="#000" stroke-width="1"/>
<path d="M1305.5,155V195" stroke="#000" stroke-width="1"/>
<rect x="1302.5" y="165.5" width="6" height="18.0" fill="#90ee90" stroke="#000" stroke-width="1"/>
<path d="M1312.5,146V218" stroke="#000" stroke-width="1"/>
<rect x="1309.5" y="165.5" width="6" height="40.0" fill="#ff0000" stroke="#000" stroke-width="1"/>
<path d="M1319.5,185V225" stroke="#000" stroke-width="1"/>
<rect x="1316.5" y="205.5" width="6" height="14.0" fill="#ff0000" stroke="#000" stroke-width="1"/>
<path d="M1326.5,204V247" stroke="#000" stroke-width="1"/>
<rect x="1323.5" y="220.5" width="6" height="20.0" fill="#ff0000" stroke="#000" stroke-width="1"/>
<path d="M1333.5,217V251" stroke="#000" stroke-width="1"/>
<rect x="1330.5" y="224.5" width="6" height="16.0" fill="#90ee90" stroke="#000" stroke-width="1"/>
<path d="M1340.5,217V237" stroke="#000" stroke-width="1"/>
<rect x="1337.5" y="227.5" width="6" height="2.0" fill="#ff0000" stroke="#000" stroke-width="1"/>
<path d="M1347.5,213V236" stroke="#000" stroke-width="1"/>
<rect x="1344.5" y="221.5" width="6" height="7.0" fill="#90ee90" stroke="#000" stroke-width="1"/>
<path d="M1354.5,214V231" stroke="#000" stroke-width="1"/>
<path d="M1351.0,219.5H1358.0" stroke="#000" stroke-width="1"/>
<path d="M1361.5,205V224" stroke="#000" stroke-width="1"/>
<rect x="1358.5" y="208.5" width="6" height="12.0" fill="#90ee90" stroke="#000" stroke-width="1"/>
<path d="M1368.5,207V224" stroke="#000" stroke-width="1"/>
<rect x="1365.5" y="211.5" width="6" height="2.0" fill="#ff0000" stroke="#000" stroke-width="1"/>
<path d="M1375.5,209V227" stroke="#000" stroke-width="1"/>
<rect x="1372.5" y="212.5" width="6" height="8.0" fill="#ff0000" stroke="#000" stroke-width="1"/>
<path d="M1382.5,218V243" stroke="#000" stroke-width="1"/>
<rect x="1379.5" y="220.5" width="6" height="11.0" fill="#ff0000" stroke="#000" stroke-width="1"/>
<path d="M1389.5,218V241" stroke="#000" stroke-width="1"/>
<rect x="1386.5" y="222.5" width="6" height="14.0" fill="#90ee90" stroke="#000" stroke-width="1"/>
<path d="M1396.5,214V234" stroke="#000" stroke-width="1"/>
<rect x="1393.5" y="218.5" width="6" height="4.0" fill="#90ee90" stroke="#000" stroke-width="1"/>
<path d="M1403.5,208V225" stroke="#000" stroke-width="1"/>
<rect x="1400.5" y="211.5" width="6" height="7.0" fill="#90ee90" stroke="#000" stroke-width="1"/>
<path d="M1410.5,191V215" stroke="#000" stroke-width="1"/>
<rect x="1407.5" y="193.5" width="6" height="18.0" fill="#90ee90" stroke="#000" stroke-width="1"/>
<path d="M1417.5,189V201" stroke="#000" stroke-width="1"/>
<rect x="1414.5" y="193.5" width="6" height="4.0" fill="#ff0000" stroke="#000" stroke-width="1"/>
<path d="M1424.5,191V218" stroke="#000" stroke-width="1"/>
<rect x="1421.5" y="197.5" width="6" height="13.0" fill="#ff0000" stroke="#000" stroke-width="1"/>
<path d="M1431.5,202V233" stroke="#000" stroke-width="1"/>
<path d="M1428.0,210.5H1435.0" stroke="#000" stroke-width="1"/>
<path d="M1438.5,143V211" stroke="#000" stroke-width="1"/>
<rect x="1435.5" y="153.5" width="6" height="57.0" fill="#90ee90" stroke="#000" stroke-width="1"/>
<path d="M1445.5,133V181" stroke="#000" stroke-width="1"/>
<rect x="1442.5" y="151.5" width="6" height="14.0" fill="#ff0000" stroke="#000" stroke-width="1"/>
<path d="M1452.5,157V192" stroke="#000" stroke-width="1"/>
<rect x="1449.5" y="165.5" width="6" height="17.0" fill="#ff0000" stroke="#000" stroke-width="1"/>
<path d="M1459.5,165V194" stroke="#000" stroke-width="1"/>
<rect x="1456.5" y="182.5" width="6" height="2.0" fill="#ff0000" stroke="#000" stroke-width="1"/>
<path d="M1466.5,172V194" stroke="#000" stroke-width="1"/>
<rect x="1463.5" y="182.5" width="6" height="2.0" fill="#90ee90" stroke="#000" stroke-width="1"/>
<path d="M1473.5,153V190" stroke="#000" stroke-width="1"/>
<rect x="1470.5" y="178.5" width="6" height="4.0" fill="#90ee90" stroke="#000" stroke-width="1"/>
<path d="M1480.5,152V182" stroke="#000" stroke-width="1"/>
<rect x="1477.5" y="153.5" width="6" height="27.0" fill="#90ee90" stroke="#000" stroke-width="1"/>
<path d="M1487.5,149V172" stroke="#000" stroke-width="1"/>
<rect x="1484.5" y="153.5" width="6" height="12.0" fill="#ff0000" stroke="#000" stroke-width="1"/>
<path d="M1494.5,160V178" stroke="#000" stroke-width="1"/>
<rect x="1491.5" y="166.5" width="6" height="2.0" fill="#90ee90" stroke="#000" stroke-width="1"/>
<path d="M1501.5,155V180" stroke="#000" stroke-width="1"/>
<rect x="1498.5" y="167.5" width="6" height="9.0" fill="#ff0000" stroke="#000" stroke-width="1"/>
<path d="M1508.5,160V180" stroke="#000" stroke-width="1"/>
<rect x="1505.5" y="163.5" width="6" height="13.0" fill="#90ee90" stroke="#000" stroke-width="1"/>
<path d="M1515.5,152V168" stroke="#000" stroke-width="1"/>
<rect x="1512.5" y="159.5" width="6" height="4.0" fill="#90ee90" stroke="#000" stroke-width="1"/>
<path d="M1522.5,151V167" stroke="#000" stroke-width="1"/>
<rect x="1519.5" y="158.5" width="6" height="2.0" fill="#90ee90" stroke="#000" stroke-width="1"/>
<path d="M1529.5,151V165" stroke="#000" stroke-width="1"/>
<rect x="1526.5" y="158.5" width="6" height="2.0" fill="#ff0000" stroke="#000" stroke-width="1"/>
<path d="M1536.5,149V168" stroke="#000" stroke-width="1"/>
<rect x="1533.5" y="159.5" width="6" height="2.0" fill="#ff0000" stroke="#000" stroke-width="1"/>
<path d="M1543.5,155V170" stroke="#000" stroke-width="1"/>
<path d="M1540.0,161.5H1547.0" stroke="#000" stroke-width="1"/>
<path d="M1550.5,137V170" stroke="#000" stroke-width="1"/>
<rect x="1547.5" y="141.5" width="6" height="21.0" fill="#90ee90" stroke="#000" stroke-width="1"/>
<path d="M1557.5,126V145" stroke="#000" stroke-width="1"/>
<rect x="1554.5" y="135.5" width="6" height="8.0" fill="#90ee90" stroke="#000" stroke-width="1"/>
<path d="M1564.5,126V138" stroke="#000" stroke-width="1"/>
<rect x="1561.5" y="130.5" width="6" height="7.0" fill="#90ee90" stroke="#000" stroke-width="1"/>
<path d="M1571.5,125V138" stroke="#000" stroke-width="1"/>
<path d="M1568.0,132.5H1575.0" stroke="#000" stroke-width="1"/>
<path d="M1578.5,128V144" stroke="#000" stroke-width="1"/>
<rect x="1575.5" y="133.5" width="6" height="10.0" fill="#ff0000" stroke="#000" stroke-width="1"/>
<path d="M1585.5,126V158" stroke="#000" stroke-width="1"/>
<rect x="1582.5" y="128.5" width="6" height="15.0" fill="#90ee90" stroke="#000" stroke-width="1"/>
<path d="M1592.5,125V154" stroke="#000" stroke-width="1"/>
<rect x="1589.5" y="128.5" width="6" height="17.0" fill="#ff0000" stroke="#000" stroke-width="1"/>
<path d="M1599.5,135V162" stroke="#000" stroke-width="1"/>
<rect x="1596.5" y="145.5" width="6" height="10.0" fill="#ff0000" stroke="#000" stroke-width="1"/>
<path d="M1606.5,145V172" stroke="#000" stroke-width="1"/>
<rect x="1603.5" y="147.5" width="6" height="8.0" fill="#90ee90" stroke="#000" stroke-width="1"/>
<path d="M1613.5,126V180" stroke="#000" stroke-width="1"/>
<rect x="1610.5" y="133.5" width="6" height="17.0" fill="#90ee90" stroke="#000" stroke-width="1"/>
<path d="M1620.5,128V175" stroke="#000" stroke-width="1"/>
<rect x="1617.5" y="133.5" width="6" height="14.0" fill="#ff0000" stroke="#000" stroke-width="1"/>
<path d="M1627.5,131V158" stroke="#000" stroke-width="1"/>
<path d="M1624.0,150.5H1631.0" stroke="#000" stroke-width="1"/>
<path d="M1634.5,132V160" stroke="#000" stroke-width="1"/>
<rect x="1631.5" y="142.5" width="6" height="5.0" fill="#90ee90" stroke="#000" stroke-width="1"/>
<path d="M1641.5,136V171" stroke="#000" stroke-width="1"/>
<rect x="1638.5" y="142.5" width="6" height="16.0" fill="#ff0000" stroke="#000" stroke-width="1"/>
<path d="M1648.5,157V173" stroke="#000" stroke-width="1"/>
<rect x="1645.5" y="160.5" width="6" height="7.0" fill="#ff0000" stroke="#000" stroke-width="1"/>
<path d="M1655.5,126V172" stroke="#000" stroke-width="1"/>
<rect x="1652.5" y="138.5" width="6" height="29.0" fill="#90ee90" stroke="#000" stroke-width="1"/>
<path d="M1662.5,135V156" stroke="#000" stroke-width="1"/>
<rect x="1659.5" y="138.5" width="6" height="17.0" fill="#ff0000" stroke="#000" stroke-width="1"/>
<path d="M1669.5,152V205" stroke="#000" stroke-width="1"/>
<rect x="1666.5" y="155.5" width="6" height="40.0" fill="#ff0000" stroke="#000" stroke-width="1"/>
<path d="M1676.5,177V206" stroke="#000" stroke-width="1"/>
<path d="M1673.0,195.5H1680.0" stroke="#000" stroke-width="1"/>
<path d="M1683.5,191V205" stroke="#000" stroke-width="1"/>
<rect x="1680.5" y="195.5" width="6" height="4.0" fill="#ff0000" stroke="#000" stroke-width="1"/>
<path d="M1690.5,181V205" stroke="#000" stroke-width="1"/>
<path d="M1687.0,199.5H1694.0" stroke="#000" stroke-width="1"/>
<path d="M1697.5,177V207" stroke="#000" stroke-width="1"/>
<rect x="1694.5" y="194.5" width="6" height="5.0" fill="#90ee90" stroke="#000" stroke-width="1"/>
<path d="M1701.0,191.5H1708.0" stroke="#000" stroke-width="1"/>
</g>
<path d="M17.1,393.4 C19.4,392.7 26.2,390.3 30.8,389.1 C35.5,387.9 40.3,387.6 45.0,386.3 C49.7,385.0 53.5,382.9 59.2,381.2 C64.9,379.5 73.4,377.6 79.1,376.3 C84.8,375.0 88.5,375.1 93.3,373.5 C98.0,371.9 102.8,368.3 107.6,366.4 C112.3,364.5 117.1,363.4 121.8,362.1 C126.5,360.8 131.3,359.6 136.0,358.4 C140.7,357.2 145.4,355.9 150.2,355.0 C154.9,354.1 159.8,354.0 164.5,352.7 C169.2,351.4 174.0,348.3 178.7,347.0 C183.4,345.7 188.3,345.6 192.9,345.0 C197.5,344.4 201.4,344.5 206.0,343.6 C210.6,342.7 215.5,340.2 220.2,339.4 C224.9,338.5 229.7,337.4 234.4,338.5 C239.2,339.6 244.9,344.3 248.7,345.9 C252.5,347.5 253.4,347.8 257.2,347.9 C261.0,348.0 266.6,347.4 271.4,346.5 C276.1,345.6 280.0,344.1 285.7,342.2 C291.4,340.3 299.0,337.2 305.6,335.1 C312.2,333.0 320.8,331.5 325.5,329.4 C330.2,327.3 330.2,325.1 334.0,322.3 C337.8,319.5 343.6,315.2 348.3,312.3 C353.1,309.4 357.8,307.3 362.5,305.2 C367.2,303.1 372.0,301.9 376.7,299.5 C381.4,297.1 386.1,293.5 390.9,291.0 C395.6,288.5 401.9,285.8 405.2,284.7 C408.5,283.6 407.2,284.1 410.5,284.1 C413.8,284.2 420.3,284.9 424.8,285.0 C429.3,285.1 432.9,282.1 437.6,285.0 C442.3,287.9 448.7,297.1 453.2,302.6 C457.7,308.2 461.3,312.9 464.6,318.3 C467.9,323.8 469.3,328.7 473.1,335.3 C476.9,341.9 482.6,350.5 487.3,358.1 C492.1,365.7 496.9,372.6 501.6,380.9 C506.4,389.2 511.1,399.6 515.8,407.9 C520.5,416.2 525.3,423.3 530.0,430.7 C534.7,438.1 539.5,444.6 544.2,452.0 C549.0,459.4 553.8,467.7 558.5,474.8 C563.2,481.9 570.0,490.4 572.7,494.7 C575.5,498.9 572.6,499.5 575.0,500.3 C577.4,501.1 582.0,500.3 587.0,499.7 C592.0,499.1 599.5,498.7 605.1,496.7 C610.7,494.7 616.2,489.6 620.8,487.7 C625.4,485.8 628.4,486.9 632.8,485.3 C637.2,483.7 642.8,480.9 647.2,478.1 C651.6,475.3 655.3,471.4 659.3,468.4 C663.3,465.4 667.3,462.8 671.3,460.0 C675.3,457.2 679.4,454.4 683.4,451.6 C687.4,448.8 691.4,445.9 695.4,443.2 C699.4,440.5 703.8,437.5 707.4,435.3 C711.0,433.1 714.1,431.2 717.1,429.9 C720.1,428.6 722.5,428.8 725.5,427.5 C728.5,426.2 731.0,425.1 735.0,422.1 C739.0,419.1 744.0,414.7 749.7,409.7 C755.4,404.7 762.8,398.0 769.4,391.9 C776.0,385.8 784.2,377.8 789.1,373.2 C794.0,368.6 795.6,367.8 798.9,364.4 C802.2,361.0 805.5,356.6 808.8,352.6 C812.1,348.7 815.3,344.5 818.6,340.7 C821.9,336.9 825.2,333.7 828.5,329.9 C831.8,326.1 835.0,321.7 838.3,318.1 C841.6,314.5 844.9,311.5 848.2,308.2 C851.5,304.9 854.4,301.8 858.0,298.4 C861.6,295.0 866.5,290.4 870.0,287.6 C873.5,284.8 875.4,283.6 879.3,281.6 C883.2,279.7 888.9,277.3 893.6,275.9 C898.4,274.5 903.3,274.1 907.8,273.1 C912.3,272.2 916.3,270.3 920.6,270.2 C924.9,270.1 928.9,270.9 933.4,272.5 C937.9,274.1 942.9,277.5 947.6,279.6 C952.4,281.7 957.1,282.9 961.9,285.3 C966.6,287.7 971.4,291.0 976.1,293.8 C980.8,296.6 985.6,299.8 990.3,302.4 C995.0,305.0 1000.1,307.6 1004.2,309.4 C1008.3,311.2 1011.2,311.8 1015.0,313.4 C1018.8,315.0 1023.0,317.5 1027.0,318.9 C1031.0,320.3 1035.1,321.3 1039.1,321.9 C1043.1,322.5 1047.1,322.1 1051.1,322.5 C1055.1,322.9 1059.2,324.0 1063.2,324.3 C1067.2,324.6 1071.6,324.6 1075.2,324.3 C1078.8,324.0 1081.2,323.2 1084.8,322.5 C1088.4,321.8 1092.9,321.6 1096.9,320.1 C1100.9,318.6 1104.9,315.8 1108.9,313.4 C1112.9,311.0 1117.0,308.1 1121.0,305.6 C1125.0,303.1 1129.4,300.0 1133.0,298.4 C1136.6,296.8 1140.0,296.7 1142.6,296.0 C1145.2,295.3 1145.8,295.5 1148.6,294.2 C1151.4,292.9 1155.1,290.8 1159.5,288.2 C1163.9,285.6 1169.4,281.4 1175.0,278.5 C1180.6,275.6 1187.3,273.4 1193.0,270.5 C1198.7,267.6 1204.2,264.0 1209.4,261.4 C1214.6,258.8 1218.7,257.9 1224.2,254.9 C1229.7,251.9 1237.0,246.1 1242.2,243.4 C1247.4,240.7 1250.9,240.4 1255.3,238.5 C1259.7,236.6 1264.9,234.1 1268.5,231.9 C1272.1,229.7 1274.0,227.9 1276.7,225.3 C1279.4,222.7 1281.4,218.9 1284.9,216.3 C1288.5,213.7 1294.2,211.8 1298.0,209.7 C1301.8,207.6 1304.5,205.2 1307.8,204.0 C1311.1,202.8 1315.2,202.7 1317.7,202.6 C1320.2,202.5 1319.4,203.0 1322.6,203.2 C1325.8,203.4 1332.1,204.1 1336.8,203.8 C1341.5,203.5 1345.8,202.4 1351.0,201.5 C1356.2,200.6 1362.9,197.8 1368.1,198.1 C1373.3,198.4 1377.6,202.4 1382.3,203.5 C1387.0,204.6 1391.5,204.5 1396.2,204.8 C1400.9,205.1 1405.7,204.3 1410.4,205.1 C1415.2,205.9 1419.8,208.5 1424.7,209.4 C1429.6,210.3 1435.5,210.4 1440.0,210.3 C1444.5,210.2 1448.0,210.1 1452.0,209.1 C1456.0,208.1 1460.1,205.7 1464.1,204.3 C1468.1,202.9 1472.1,202.3 1476.1,200.7 C1480.1,199.1 1484.2,196.1 1488.2,194.6 C1492.2,193.1 1496.2,192.7 1500.2,191.6 C1504.2,190.5 1508.2,189.5 1512.2,188.0 C1516.2,186.5 1520.3,184.5 1524.3,182.6 C1528.3,180.7 1532.3,178.4 1536.3,176.6 C1540.3,174.8 1544.4,173.5 1548.4,171.8 C1552.4,170.1 1556.4,168.3 1560.4,166.4 C1564.4,164.5 1568.4,161.6 1572.4,160.3 C1576.4,159.0 1579.9,159.4 1584.5,158.5 C1589.1,157.6 1595.3,156.1 1600.0,154.9 C1604.7,153.7 1608.1,152.0 1612.6,151.1 C1617.1,150.2 1622.1,150.3 1626.8,149.7 C1631.5,149.1 1636.2,147.9 1641.0,147.4 C1645.8,146.9 1650.5,146.7 1655.3,146.8 C1660.0,146.9 1664.8,147.2 1669.5,148.2 C1674.2,149.1 1677.9,150.3 1683.7,152.5 C1689.5,154.7 1701.0,160.1 1704.5,161.6" fill="none" stroke="#000" stroke-width="2" stroke-linejoin="round" />
<path d="M17.1,394.0 L29.3,391.4" fill="none" stroke="#ff0000" stroke-width="3" stroke-linejoin="round" stroke-dasharray="9,3" />
<path d="M29.3,391.4 C31.9,390.8 40.0,389.7 45.0,387.7 C50.0,385.7 54.5,381.8 59.2,379.2 C63.9,376.6 68.2,374.7 73.4,372.1 C78.6,369.5 86.0,366.8 90.5,363.5 C95.0,360.2 97.6,355.5 100.6,352.5 C103.6,349.5 105.9,347.1 108.5,345.6 C111.1,344.1 113.8,343.8 116.4,343.6 C119.0,343.4 122.0,344.2 124.3,344.6 C126.6,345.0 129.2,345.9 130.2,346.1" fill="none" stroke="#008000" stroke-width="3" stroke-linejoin="round" stroke-dasharray="9,3" />
<path d="M130.2,346.1 C131.6,346.6 135.1,348.5 138.9,349.3 C142.7,350.1 148.8,350.4 153.1,350.7 C157.4,351.0 161.7,351.3 164.5,351.3 C167.3,351.3 169.1,350.6 170.0,350.5" fill="none" stroke="#ff0000" stroke-width="3" stroke-linejoin="round" stroke-dasharray="9,3" />
<path d="M170.0,350.5 C171.4,349.8 174.9,347.3 178.7,346.5 C182.5,345.7 188.2,346.0 192.9,345.9 C197.7,345.8 202.6,346.9 207.2,346.0 C211.8,345.1 215.9,341.4 220.2,340.2 C224.5,338.9 230.9,338.8 233.0,338.5" fill="none" stroke="#008000" stroke-width="3" stroke-linejoin="round" stroke-dasharray="9,3" />
<path d="M233.0,338.5 C234.7,339.7 239.4,343.7 243.0,345.9 C246.6,348.1 250.6,350.8 254.4,351.6 C258.2,352.4 263.1,351.1 265.7,350.7 C268.3,350.3 269.3,349.3 270.0,349.0" fill="none" stroke="#ff0000" stroke-width="3" stroke-linejoin="round" stroke-dasharray="9,3" />
<path d="M270.0,349.0 C271.2,348.3 273.6,347.8 277.1,345.0 C280.7,342.2 286.6,335.8 291.3,332.2 C296.1,328.6 299.9,326.8 305.6,323.7 C311.3,320.6 320.8,317.6 325.5,313.8 C330.2,310.0 330.2,304.9 334.0,301.0 C337.8,297.1 343.6,293.4 348.3,290.1 C353.1,286.8 357.8,283.1 362.5,281.0 C367.2,278.9 373.9,277.9 376.7,277.3 C379.5,276.7 379.0,277.5 379.5,277.5" fill="none" stroke="#008000" stroke-width="3" stroke-linejoin="round" stroke-dasharray="9,3" />
<path d="M379.5,277.5 C381.4,278.3 386.6,280.7 390.9,282.5 C395.2,284.3 401.0,286.2 405.2,288.2 C409.4,290.2 412.0,292.9 416.2,294.7 C420.4,296.5 426.6,297.6 430.4,298.9 C434.2,300.2 436.1,298.2 439.0,302.6 C441.9,307.0 444.2,315.7 447.5,325.4 C450.8,335.1 454.6,348.9 458.9,361.0 C463.2,373.1 469.3,388.9 473.1,397.9 C476.9,406.9 477.9,408.8 481.7,415.0 C485.5,421.2 491.2,428.2 495.9,434.9 C500.6,441.6 505.4,449.2 510.1,455.4 C514.8,461.6 519.5,467.0 524.3,471.9 C529.0,476.8 533.9,480.9 538.6,484.7 C543.4,488.5 548.3,492.1 552.8,494.7 C557.3,497.3 562.7,499.5 565.6,500.4 C568.5,501.3 569.3,500.1 570.0,500.0" fill="none" stroke="#ff0000" stroke-width="3" stroke-linejoin="round" stroke-dasharray="9,3" />
<path d="M570.0,500.0 C570.8,499.6 573.2,498.8 575.0,497.3 C576.8,495.9 578.6,493.9 581.0,491.3 C583.4,488.7 586.8,484.1 589.4,481.7 C592.0,479.3 594.1,478.2 596.7,476.9 C599.3,475.6 602.1,475.5 605.1,473.9 C608.1,472.3 611.7,469.1 614.7,467.2 C617.7,465.3 619.8,463.8 623.2,462.4 C626.6,461.0 631.6,460.2 635.2,458.8 C638.8,457.4 641.8,456.2 644.8,454.0 C647.8,451.8 650.5,447.9 653.3,445.6 C656.1,443.3 658.7,441.6 661.7,440.1 C664.7,438.6 667.7,437.6 671.3,436.5 C674.9,435.4 679.4,434.1 683.4,433.5 C687.4,432.9 691.8,432.8 695.4,432.6 C699.0,432.4 702.0,432.8 705.0,432.3 C708.0,431.9 710.4,431.4 713.4,429.9 C716.4,428.4 719.5,426.7 723.1,423.3 C726.7,419.9 732.2,413.0 735.0,409.4 C737.8,405.8 737.3,405.4 739.8,401.8 C742.2,398.2 746.4,392.6 749.7,388.0 C753.0,383.4 756.2,378.5 759.5,374.2 C762.8,369.9 765.8,366.3 769.4,362.4 C773.0,358.5 777.9,354.7 781.2,350.6 C784.5,346.5 786.2,342.1 789.1,337.8 C792.0,333.5 795.6,328.9 798.9,325.0 C802.2,321.1 805.5,317.6 808.8,314.2 C812.1,310.8 815.3,307.6 818.6,304.3 C821.9,301.0 825.2,297.0 828.5,294.5 C831.8,292.0 835.0,291.1 838.3,289.5 C841.6,287.9 844.9,286.1 848.2,284.6 C851.5,283.1 854.4,282.0 858.0,280.7 C861.6,279.4 866.5,277.6 870.0,276.7 C873.5,275.8 875.4,275.7 879.3,275.3 C883.2,274.9 890.3,274.6 893.6,274.5 C896.9,274.4 898.1,274.6 899.0,274.6" fill="none" stroke="#008000" stroke-width="3" stroke-linejoin="round" stroke-dasharray="9,3" />
<path d="M899.0,274.6 C901.4,275.0 908.2,275.7 913.5,276.8 C918.8,277.9 925.4,277.9 930.6,281.0 C935.8,284.1 939.1,291.7 944.8,295.3 C950.5,298.9 959.5,299.3 964.7,302.4 C969.9,305.5 971.8,309.9 976.1,313.8 C980.4,317.7 985.6,323.6 990.3,326.0 C995.0,328.4 999.5,327.3 1004.2,327.9 C1008.9,328.4 1014.9,329.1 1018.4,329.3 C1021.9,329.5 1024.3,329.1 1025.5,329.0" fill="none" stroke="#ff0000" stroke-width="3" stroke-linejoin="round" stroke-dasharray="9,3" />
<path d="M1025.5,329.0 C1025.5,329.1 1022.9,330.9 1025.8,329.7 C1028.7,328.5 1037.9,324.5 1042.7,321.9 C1047.5,319.3 1050.5,315.8 1054.7,314.0 C1058.9,312.2 1063.6,311.8 1068.0,311.0 C1072.4,310.2 1077.0,309.7 1081.2,309.2 C1085.4,308.7 1090.3,309.1 1093.3,308.0 C1096.3,306.9 1096.5,305.1 1099.3,302.6 C1102.1,300.1 1106.1,295.7 1110.1,293.0 C1114.1,290.3 1118.8,288.2 1123.4,286.4 C1128.0,284.6 1135.4,282.8 1137.8,282.1 C1140.2,281.4 1138.0,282.3 1138.0,282.4" fill="none" stroke="#008000" stroke-width="3" stroke-linejoin="round" stroke-dasharray="9,3" />
<path d="M1138.0,282.4 L1144.5,288.2" fill="none" stroke="#ff0000" stroke-width="3" stroke-linejoin="round" stroke-dasharray="9,3" />
<path d="M1144.5,288.2 C1146.0,287.3 1150.0,284.9 1153.5,282.7 C1157.0,280.5 1161.9,277.4 1165.5,274.9 C1169.1,272.4 1172.3,269.8 1175.0,267.7 C1177.7,265.6 1178.5,264.7 1181.5,262.3 C1184.5,259.9 1188.9,255.7 1193.0,253.2 C1197.1,250.7 1201.7,248.7 1206.1,247.5 C1210.5,246.3 1215.7,246.7 1219.2,246.3 C1222.8,245.9 1224.7,246.8 1227.4,245.0 C1230.1,243.2 1232.9,238.3 1235.6,235.2 C1238.3,232.0 1240.5,228.6 1243.8,226.1 C1247.1,223.6 1251.2,222.0 1255.3,220.4 C1259.4,218.8 1264.9,218.8 1268.5,216.3 C1272.1,213.8 1274.0,208.3 1276.7,205.6 C1279.4,202.9 1281.4,201.9 1284.9,199.9 C1288.5,197.9 1294.8,194.8 1298.0,193.3 C1301.2,191.8 1303.1,191.4 1304.1,191.0" fill="none" stroke="#008000" stroke-width="3" stroke-linejoin="round" stroke-dasharray="9,3" />
<path d="M1304.1,191.0 C1305.8,191.7 1310.0,193.4 1314.0,195.3 C1318.0,197.2 1323.5,200.1 1328.2,202.4 C1333.0,204.7 1337.8,207.3 1342.5,208.9 C1347.2,210.5 1352.0,211.3 1356.7,211.8 C1361.4,212.3 1366.2,211.2 1370.9,211.8 C1375.6,212.4 1381.3,214.3 1385.1,215.2 C1388.8,216.1 1390.6,217.0 1393.4,217.1 C1396.2,217.2 1400.5,215.9 1401.9,215.7" fill="none" stroke="#ff0000" stroke-width="3" stroke-linejoin="round" stroke-dasharray="9,3" />
<path d="M1401.9,215.7 C1403.3,214.9 1406.6,211.8 1410.4,210.8 C1414.2,209.9 1420.9,210.2 1424.7,210.0 C1428.5,209.8 1430.7,211.0 1433.2,209.4 C1435.8,207.8 1436.9,203.3 1440.0,200.7 C1443.1,198.1 1448.0,195.6 1452.0,194.0 C1456.0,192.4 1460.3,191.9 1464.1,191.0 C1467.9,190.1 1472.1,189.8 1474.9,188.6 C1477.7,187.4 1477.7,185.3 1480.9,183.8 C1484.1,182.3 1490.0,180.8 1494.2,179.6 C1498.4,178.4 1502.2,177.7 1506.2,176.6 C1510.2,175.5 1514.3,174.1 1518.3,173.0 C1522.3,171.9 1526.3,170.9 1530.3,170.0 C1534.3,169.1 1538.3,168.8 1542.3,167.6 C1546.3,166.4 1551.4,164.2 1554.4,162.7 C1557.4,161.2 1558.2,160.0 1560.4,158.5 C1562.6,157.0 1565.0,154.9 1567.6,153.7 C1570.2,152.5 1573.2,152.4 1576.0,151.3 C1578.8,150.2 1582.3,148.0 1584.5,147.1 C1586.7,146.2 1587.4,145.8 1589.3,145.9 C1591.2,146.0 1593.5,147.3 1596.0,147.8 C1598.5,148.3 1600.0,148.6 1604.0,148.8 C1608.0,149.0 1615.3,149.0 1619.7,148.8 C1624.1,148.7 1627.6,148.3 1630.6,147.9 C1633.6,147.5 1636.1,146.3 1637.8,146.2 C1639.5,146.1 1640.5,147.3 1641.0,147.5" fill="none" stroke="#008000" stroke-width="3" stroke-linejoin="round" stroke-dasharray="9,3" />
<path d="M1641.0,147.5 C1642.1,148.0 1645.1,150.0 1647.4,150.3 C1649.7,150.7 1652.0,149.7 1654.6,149.6 C1657.2,149.5 1660.8,149.2 1663.0,149.8 C1665.2,150.4 1665.9,151.3 1667.9,153.3 C1669.9,155.3 1672.1,159.2 1675.1,161.8 C1678.1,164.4 1682.5,167.0 1685.9,169.0 C1689.3,171.0 1692.5,172.5 1695.6,173.8 C1698.7,175.1 1703.1,176.3 1704.6,176.8" fill="none" stroke="#ff0000" stroke-width="3" stroke-linejoin="round" stroke-dasharray="9,3" />
<circle cx="45.5" cy="347.4" r="4" fill="#6495ed" stroke="#000" stroke-width="1"/>
<circle cx="66.5" cy="325.4" r="4" fill="#6495ed" stroke="#000" stroke-width="1"/>
<circle cx="108.5" cy="278.8" r="4" fill="#6495ed" stroke="#000" stroke-width="1"/>
<circle cx="227.5" cy="276.2" r="4" fill="#6495ed" stroke="#000" stroke-width="1"/>
<circle cx="255.5" cy="394.3" r="4" fill="#6495ed" stroke="#000" stroke-width="1"/>
<circle cx="290.5" cy="268.2" r="4" fill="#6495ed" stroke="#000" stroke-width="1"/>
<circle cx="332.5" cy="203.4" r="4" fill="#6495ed" stroke="#000" stroke-width="1"/>
<circle cx="472.5" cy="537.4" r="4" fill="#6495ed" stroke="#000" stroke-width="1"/>
<circle cx="535.5" cy="541.8" r="4" fill="#6495ed" stroke="#000" stroke-width="1"/>
<circle cx="563.5" cy="568.5" r="4" fill="#6495ed" stroke="#000" stroke-width="1"/>
<circle cx="661.5" cy="388.5" r="4" fill="#6495ed" stroke="#000" stroke-width="1"/>
<circle cx="745.5" cy="308.0" r="4" fill="#6495ed" stroke="#000" stroke-width="1"/>
<circle cx="759.5" cy="282.7" r="4" fill="#6495ed" stroke="#000" stroke-width="1"/>
<circle cx="787.5" cy="254.2" r="4" fill="#6495ed" stroke="#000" stroke-width="1"/>
<circle cx="829.5" cy="248.3" r="4" fill="#6495ed" stroke="#000" stroke-width="1"/>
<circle cx="871.5" cy="242.6" r="4" fill="#6495ed" stroke="#000" stroke-width="1"/>
<circle cx="948.5" cy="355.6" r="4" fill="#6495ed" stroke="#000" stroke-width="1"/>
<circle cx="983.5" cy="388.6" r="4" fill="#6495ed" stroke="#000" stroke-width="1"/>
<circle cx="1102.5" cy="220.6" r="4" fill="#6495ed" stroke="#000" stroke-width="1"/>
<circle cx="1179.5" cy="214.1" r="4" fill="#6495ed" stroke="#000" stroke-width="1"/>
<circle cx="1235.5" cy="165.4" r="4" fill="#6495ed" stroke="#000" stroke-width="1"/>
<circle cx="1277.5" cy="137.5" r="4" fill="#6495ed" stroke="#000" stroke-width="1"/>
<circle cx="1445.5" cy="128.3" r="4" fill="#6495ed" stroke="#000" stroke-width="1"/>
<circle cx="1571.5" cy="120.6" r="4" fill="#6495ed" stroke="#000" stroke-width="1"/>
<circle cx="1592.5" cy="120.6" r="4" fill="#6495ed" stroke="#000" stroke-width="1"/>
<circle cx="1683.5" cy="209.4" r="4" fill="#6495ed" stroke="#000" stroke-width="1"/>
<circle cx="1697.5" cy="211.4" r="4" fill="#6495ed" stroke="#000" stroke-width="1"/>
<path d="M120.7,260.5 H124.3 V274.5 H127.7 L122.5,280 L117.3,274.5 H120.7 Z" fill="#ff0000" stroke="#000" stroke-width="1" stroke-linejoin="miter"/>
<path d="M232.7,271.0 H236.3 V285.0 H239.7 L234.5,290.5 L229.3,285.0 H232.7 Z" fill="#ff0000" stroke="#000" stroke-width="1" stroke-linejoin="miter"/>
<path d="M372.7,196.7 H376.3 V210.7 H379.7 L374.5,216.2 L369.3,210.7 H372.7 Z" fill="#ff0000" stroke="#000" stroke-width="1" stroke-linejoin="miter"/>
<path d="M680.7,357.7 H684.3 V371.7 H687.7 L682.5,377.2 L677.3,371.7 H680.7 Z" fill="#ff0000" stroke="#000" stroke-width="1" stroke-linejoin="miter"/>
<path d="M834.7,214.7 H838.3 V228.7 H841.7 L836.5,234.2 L831.3,228.7 H834.7 Z" fill="#ff0000" stroke="#000" stroke-width="1" stroke-linejoin="miter"/>
<path d="M1079.7,255.8 H1083.3 V269.8 H1086.7 L1081.5,275.3 L1076.3,269.8 H1079.7 Z" fill="#ff0000" stroke="#000" stroke-width="1" stroke-linejoin="miter"/>
<path d="M1135.7,210.8 H1139.3 V224.8 H1142.7 L1137.5,230.3 L1132.3,224.8 H1135.7 Z" fill="#ff0000" stroke="#000" stroke-width="1" stroke-linejoin="miter"/>
<path d="M1212.7,175.0 H1216.3 V189.0 H1219.7 L1214.5,194.5 L1209.3,189.0 H1212.7 Z" fill="#ff0000" stroke="#000" stroke-width="1" stroke-linejoin="miter"/>
<path d="M1303.7,112.7 H1307.3 V126.7 H1310.7 L1305.5,132.2 L1300.3,126.7 H1303.7 Z" fill="#ff0000" stroke="#000" stroke-width="1" stroke-linejoin="miter"/>
<path d="M1499.7,100.9 H1503.3 V114.9 H1506.7 L1501.5,120.4 L1496.3,114.9 H1499.7 Z" fill="#ff0000" stroke="#000" stroke-width="1" stroke-linejoin="miter"/>
<path d="M1590.7,89.8 H1594.3 V103.8 H1597.7 L1592.5,109.3 L1587.3,103.8 H1590.7 Z" fill="#ff0000" stroke="#000" stroke-width="1" stroke-linejoin="miter"/>
<path d="M29.7,436.2 H33.3 V422.2 H36.7 L31.5,416.7 L26.3,422.2 H29.7 Z" fill="#008000" stroke="#000" stroke-width="1" stroke-linejoin="miter"/>
<path d="M176.7,412.5 H180.3 V398.5 H183.7 L178.5,393.0 L173.3,398.5 H176.7 Z" fill="#008000" stroke="#000" stroke-width="1" stroke-linejoin="miter"/>
<path d="M267.7,434.7 H271.3 V420.7 H274.7 L269.5,415.2 L264.3,420.7 H267.7 Z" fill="#008000" stroke="#000" stroke-width="1" stroke-linejoin="miter"/>
<path d="M519.7,568.8 H523.3 V554.8 H526.7 L521.5,549.3 L516.3,554.8 H519.7 Z" fill="#008000" stroke="#000" stroke-width="1" stroke-linejoin="miter"/>
<path d="M708.7,480.5 H712.3 V466.5 H715.7 L710.5,461.0 L705.3,466.5 H708.7 Z" fill="#008000" stroke="#000" stroke-width="1" stroke-linejoin="miter"/>
<path d="M1002.7,419.3 H1006.3 V405.3 H1009.7 L1004.5,399.8 L999.3,405.3 H1002.7 Z" fill="#008000" stroke="#000" stroke-width="1" stroke-linejoin="miter"/>
<path d="M1086.7,359.3 H1090.3 V345.3 H1093.7 L1088.5,339.8 L1083.3,345.3 H1086.7 Z" fill="#008000" stroke="#000" stroke-width="1" stroke-linejoin="miter"/>
<path d="M1149.7,364.3 H1153.3 V350.3 H1156.7 L1151.5,344.8 L1146.3,350.3 H1149.7 Z" fill="#008000" stroke="#000" stroke-width="1" stroke-linejoin="miter"/>
<path d="M1226.7,289.2 H1230.3 V275.2 H1233.7 L1228.5,269.7 L1223.3,275.2 H1226.7 Z" fill="#008000" stroke="#000" stroke-width="1" stroke-linejoin="miter"/>
<path d="M1380.7,280.5 H1384.3 V266.5 H1387.7 L1382.5,261.0 L1377.3,266.5 H1380.7 Z" fill="#008000" stroke="#000" stroke-width="1" stroke-linejoin="miter"/>
<path d="M1506.7,232.8 H1510.3 V218.8 H1513.7 L1508.5,213.3 L1503.3,218.8 H1506.7 Z" fill="#008000" stroke="#000" stroke-width="1" stroke-linejoin="miter"/>
</g>
<g id="macd">
<circle cx="129.1" cy="653.6" r="5.2" fill="#ffd700"/>
<circle cx="381.8" cy="652.7" r="5.2" fill="#ffd700"/>
<circle cx="549.9" cy="751.9" r="5.2" fill="#ffd700"/>
<circle cx="563.8" cy="751.9" r="5.2" fill="#ffd700"/>
<circle cx="850.7" cy="626.9" r="5.2" fill="#ffd700"/>
<circle cx="1039.9" cy="691.0" r="5.2" fill="#ffd700"/>
<circle cx="1144.7" cy="669.9" r="5.2" fill="#ffd700"/>
<circle cx="1228.6" cy="658.0" r="5.2" fill="#ffd700"/>
<circle cx="1312.8" cy="647.6" r="5.2" fill="#ffd700"/>
<circle cx="1543.5" cy="664.6" r="5.2" fill="#ffd700"/>
<circle cx="1599.7" cy="661.7" r="5.2" fill="#ffd700"/>
<g shape-rendering="crispEdges">
<rect x="15.0" y="684" width="4" height="9" fill="#daa520"/>
<rect x="22.0" y="684" width="4" height="7" fill="#daa520"/>
<rect x="29.0" y="684" width="4" height="7" fill="#daa520"/>
<rect x="36.0" y="684" width="4" height="5" fill="#daa520"/>
<rect x="43.0" y="684" width="4" height="5" fill="#daa520"/>
<rect x="50.0" y="684" width="4" height="1" fill="#ff0000"/>
<rect x="57.0" y="682" width="4" height="2" fill="#008000"/>
<rect x="64.0" y="680" width="4" height="4" fill="#008000"/>
<rect x="71.0" y="678" width="4" height="6" fill="#008000"/>
<rect x="78.0" y="678" width="4" height="6" fill="#daa520"/>
<rect x="85.0" y="678" width="4" height="6" fill="#008000"/>
<rect x="92.0" y="676" width="4" height="8" fill="#008000"/>
<rect x="99.0" y="669" width="4" height="15" fill="#008000"/>
<rect x="106.0" y="672" width="4" height="12" fill="#008000"/>
<rect x="113.0" y="673" width="4" height="11" fill="#daa520"/>
<rect x="120.0" y="680" width="4" height="4" fill="#008000"/>
<rect x="127.0" y="684" width="4" height="1" fill="#ff0000"/>
<rect x="134.0" y="684" width="4" height="8" fill="#ff0000"/>
<rect x="141.0" y="684" width="4" height="10" fill="#ff0000"/>
<rect x="148.0" y="684" width="4" height="11" fill="#ff0000"/>
<rect x="155.0" y="684" width="4" height="12" fill="#ff0000"/>
<rect x="162.0" y="684" width="4" height="13" fill="#ff0000"/>
<rect x="169.0" y="684" width="4" height="10" fill="#daa520"/>
<rect x="176.0" y="684" width="4" height="5" fill="#daa520"/>
<rect x="183.0" y="684" width="4" height="4" fill="#daa520"/>
<rect x="190.0" y="684" width="4" height="5" fill="#ff0000"/>
<rect x="197.0" y="684" width="4" height="6" fill="#ff0000"/>
<rect x="204.0" y="684" width="4" height="6" fill="#ff0000"/>
<rect x="211.0" y="684" width="4" height="3" fill="#daa520"/>
<rect x="218.0" y="684" width="4" height="1" fill="#daa520"/>
<rect x="232.0" y="684" width="4" height="1" fill="#daa520"/>
<rect x="239.0" y="684" width="4" height="8" fill="#ff0000"/>
<rect x="246.0" y="684" width="4" height="13" fill="#ff0000"/>
<rect x="253.0" y="684" width="4" height="10" fill="#ff0000"/>
<rect x="260.0" y="684" width="4" height="10" fill="#daa520"/>
<rect x="267.0" y="684" width="4" height="11" fill="#ff0000"/>
<rect x="274.0" y="684" width="4" height="1" fill="#ff0000"/>
<rect x="281.0" y="678" width="4" height="6" fill="#008000"/>
<rect x="288.0" y="672" width="4" height="12" fill="#008000"/>
<rect x="295.0" y="670" width="4" height="14" fill="#008000"/>
<rect x="302.0" y="669" width="4" height="15" fill="#008000"/>
<rect x="309.0" y="667" width="4" height="17" fill="#008000"/>
<rect x="316.0" y="668" width="4" height="16" fill="#008000"/>
<rect x="323.0" y="670" width="4" height="14" fill="#daa520"/>
<rect x="330.0" y="663" width="4" height="21" fill="#008000"/>
<rect x="337.0" y="662" width="4" height="22" fill="#008000"/>
<rect x="344.0" y="665" width="4" height="19" fill="#daa520"/>
<rect x="351.0" y="667" width="4" height="17" fill="#daa520"/>
<rect x="358.0" y="669" width="4" height="15" fill="#daa520"/>
<rect x="365.0" y="673" width="4" height="11" fill="#daa520"/>
<rect x="372.0" y="676" width="4" height="8" fill="#daa520"/>
<rect x="386.0" y="684" width="4" height="6" fill="#ff0000"/>
<rect x="393.0" y="684" width="4" height="10" fill="#ff0000"/>
<rect x="400.0" y="684" width="4" height="17" fill="#ff0000"/>
<rect x="407.0" y="684" width="4" height="19" fill="#ff0000"/>
<rect x="414.0" y="684" width="4" height="20" fill="#ff0000"/>
<rect x="421.0" y="684" width="4" height="23" fill="#ff0000"/>
<rect x="428.0" y="684" width="4" height="18" fill="#daa520"/>
<rect x="435.0" y="684" width="4" height="16" fill="#ff0000"/>
<rect x="442.0" y="684" width="4" height="37" fill="#ff0000"/>
<rect x="449.0" y="684" width="4" height="53" fill="#ff0000"/>
<rect x="456.0" y="684" width="4" height="65" fill="#ff0000"/>
<rect x="463.0" y="684" width="4" height="67" fill="#ff0000"/>
<rect x="470.0" y="684" width="4" height="68" fill="#ff0000"/>
<rect x="477.0" y="684" width="4" height="68" fill="#ff0000"/>
<rect x="484.0" y="684" width="4" height="59" fill="#ff0000"/>
<rect x="491.0" y="684" width="4" height="48" fill="#ff0000"/>
<rect x="498.0" y="684" width="4" height="42" fill="#ff0000"/>
<rect x="505.0" y="684" width="4" height="36" fill="#ff0000"/>
<rect x="512.0" y="684" width="4" height="30" fill="#ff0000"/>
<rect x="519.0" y="684" width="4" height="23" fill="#daa520"/>
<rect x="526.0" y="684" width="4" height="17" fill="#daa520"/>
<rect x="533.0" y="684" width="4" height="8" fill="#daa520"/>
<rect x="540.0" y="684" width="4" height="6" fill="#daa520"/>
<rect x="547.0" y="682" width="4" height="2" fill="#daa520"/>
<rect x="561.0" y="674" width="4" height="10" fill="#daa520"/>
<rect x="568.0" y="669" width="4" height="15" fill="#daa520"/>
<rect x="575.0" y="661" width="4" height="23" fill="#008000"/>
<rect x="582.0" y="648" width="4" height="36" fill="#008000"/>
<rect x="589.0" y="639" width="4" height="45" fill="#008000"/>
<rect x="596.0" y="637" width="4" height="47" fill="#008000"/>
<rect x="603.0" y="641" width="4" height="43" fill="#008000"/>
<rect x="610.0" y="640" width="4" height="44" fill="#008000"/>
<rect x="617.0" y="639" width="4" height="45" fill="#008000"/>
<rect x="624.0" y="643" width="4" height="41" fill="#008000"/>
<rect x="631.0" y="649" width="4" height="35" fill="#008000"/>
<rect x="638.0" y="652" width="4" height="32" fill="#008000"/>
<rect x="645.0" y="652" width="4" height="32" fill="#008000"/>
<rect x="652.0" y="649" width="4" height="35" fill="#008000"/>
<rect x="659.0" y="652" width="4" height="32" fill="#008000"/>
<rect x="666.0" y="655" width="4" height="29" fill="#008000"/>
<rect x="673.0" y="658" width="4" height="26" fill="#008000"/>
<rect x="680.0" y="663" width="4" height="21" fill="#008000"/>
<rect x="687.0" y="666" width="4" height="18" fill="#008000"/>
<rect x="694.0" y="672" width="4" height="12" fill="#daa520"/>
<rect x="701.0" y="676" width="4" height="8" fill="#daa520"/>
<rect x="708.0" y="674" width="4" height="10" fill="#008000"/>
<rect x="715.0" y="672" width="4" height="12" fill="#008000"/>
<rect x="722.0" y="668" width="4" height="16" fill="#008000"/>
<rect x="729.0" y="666" width="4" height="18" fill="#008000"/>
<rect x="736.0" y="659" width="4" height="25" fill="#008000"/>
<rect x="743.0" y="655" width="4" height="29" fill="#008000"/>
<rect x="750.0" y="654" width="4" height="30" fill="#008000"/>
<rect x="757.0" y="652" width="4" height="32" fill="#008000"/>
<rect x="764.0" y="652" width="4" height="32" fill="#008000"/>
<rect x="771.0" y="652" width="4" height="32" fill="#008000"/>
<rect x="778.0" y="657" width="4" height="27" fill="#008000"/>
<rect x="785.0" y="657" width="4" height="27" fill="#008000"/>
<rect x="792.0" y="658" width="4" height="26" fill="#008000"/>
<rect x="799.0" y="658" width="4" height="26" fill="#008000"/>
<rect x="806.0" y="660" width="4" height="24" fill="#008000"/>
<rect x="813.0" y="663" width="4" height="21" fill="#008000"/>
<rect x="820.0" y="665" width="4" height="19" fill="#008000"/>
<rect x="827.0" y="672" width="4" height="12" fill="#008000"/>
<rect x="834.0" y="675" width="4" height="9" fill="#daa520"/>
<rect x="841.0" y="681" width="4" height="3" fill="#daa520"/>
<rect x="848.0" y="684" width="4" height="1" fill="#daa520"/>
<rect x="855.0" y="684" width="4" height="4" fill="#daa520"/>
<rect x="862.0" y="684" width="4" height="5" fill="#daa520"/>
<rect x="869.0" y="684" width="4" height="6" fill="#daa520"/>
<rect x="876.0" y="684" width="4" height="10" fill="#ff0000"/>
<rect x="883.0" y="684" width="4" height="15" fill="#ff0000"/>
<rect x="890.0" y="684" width="4" height="16" fill="#ff0000"/>
<rect x="897.0" y="684" width="4" height="17" fill="#ff0000"/>
<rect x="904.0" y="684" width="4" height="20" fill="#ff0000"/>
<rect x="911.0" y="684" width="4" height="20" fill="#ff0000"/>
<rect x="918.0" y="684" width="4" height="21" fill="#ff0000"/>
<rect x="925.0" y="684" width="4" height="21" fill="#ff0000"/>
<rect x="932.0" y="684" width="4" height="24" fill="#ff0000"/>
<rect x="939.0" y="684" width="4" height="29" fill="#ff0000"/>
<rect x="946.0" y="684" width="4" height="30" fill="#ff0000"/>
<rect x="953.0" y="684" width="4" height="30" fill="#ff0000"/>
<rect x="960.0" y="684" width="4" height="26" fill="#ff0000"/>
<rect x="967.0" y="684" width="4" height="27" fill="#ff0000"/>
<rect x="974.0" y="684" width="4" height="31" fill="#ff0000"/>
<rect x="981.0" y="684" width="4" height="30" fill="#ff0000"/>
<rect x="988.0" y="684" width="4" height="30" fill="#ff0000"/>
<rect x="995.0" y="684" width="4" height="23" fill="#ff0000"/>
<rect x="1002.0" y="684" width="4" height="17" fill="#daa520"/>
<rect x="1009.0" y="684" width="4" height="12" fill="#daa520"/>
<rect x="1016.0" y="684" width="4" height="7" fill="#daa520"/>
<rect x="1023.0" y="684" width="4" height="4" fill="#daa520"/>
<rect x="1030.0" y="684" width="4" height="1" fill="#daa520"/>
<rect x="1037.0" y="677" width="4" height="7" fill="#008000"/>
<rect x="1044.0" y="671" width="4" height="13" fill="#008000"/>
<rect x="1051.0" y="668" width="4" height="16" fill="#008000"/>
<rect x="1058.0" y="670" width="4" height="14" fill="#daa520"/>
<rect x="1065.0" y="671" width="4" height="13" fill="#daa520"/>
<rect x="1072.0" y="672" width="4" height="12" fill="#daa520"/>
<rect x="1079.0" y="673" width="4" height="11" fill="#daa520"/>
<rect x="1086.0" y="676" width="4" height="8" fill="#daa520"/>
<rect x="1093.0" y="674" width="4" height="10" fill="#008000"/>
<rect x="1100.0" y="666" width="4" height="18" fill="#008000"/>
<rect x="1107.0" y="665" width="4" height="19" fill="#008000"/>
<rect x="1114.0" y="666" width="4" height="18" fill="#008000"/>
<rect x="1121.0" y="668" width="4" height="16" fill="#daa520"/>
<rect x="1128.0" y="670" width="4" height="14" fill="#daa520"/>
<rect x="1135.0" y="673" width="4" height="11" fill="#daa520"/>
<rect x="1142.0" y="684" width="4" height="1" fill="#ff0000"/>
<rect x="1149.0" y="678" width="4" height="6" fill="#008000"/>
<rect x="1156.0" y="676" width="4" height="8" fill="#008000"/>
<rect x="1163.0" y="675" width="4" height="9" fill="#008000"/>
<rect x="1170.0" y="674" width="4" height="10" fill="#008000"/>
<rect x="1177.0" y="668" width="4" height="16" fill="#008000"/>
<rect x="1184.0" y="668" width="4" height="16" fill="#008000"/>
<rect x="1191.0" y="668" width="4" height="16" fill="#008000"/>
<rect x="1198.0" y="671" width="4" height="13" fill="#daa520"/>
<rect x="1205.0" y="674" width="4" height="10" fill="#daa520"/>
<rect x="1212.0" y="678" width="4" height="6" fill="#daa520"/>
<rect x="1219.0" y="682" width="4" height="2" fill="#daa520"/>
<rect x="1233.0" y="675" width="4" height="9" fill="#008000"/>
<rect x="1240.0" y="671" width="4" height="13" fill="#008000"/>
<rect x="1247.0" y="670" width="4" height="14" fill="#008000"/>
<rect x="1254.0" y="674" width="4" height="10" fill="#daa520"/>
<rect x="1261.0" y="679" width="4" height="5" fill="#daa520"/>
<rect x="1268.0" y="678" width="4" height="6" fill="#daa520"/>
<rect x="1275.0" y="672" width="4" height="12" fill="#008000"/>
<rect x="1282.0" y="673" width="4" height="11" fill="#008000"/>
<rect x="1289.0" y="674" width="4" height="10" fill="#daa520"/>
<rect x="1296.0" y="678" width="4" height="6" fill="#daa520"/>
<rect x="1303.0" y="679" width="4" height="5" fill="#daa520"/>
<rect x="1310.0" y="684" width="4" height="3" fill="#ff0000"/>
<rect x="1317.0" y="684" width="4" height="10" fill="#ff0000"/>
<rect x="1324.0" y="684" width="4" height="20" fill="#ff0000"/>
<rect x="1331.0" y="684" width="4" height="22" fill="#ff0000"/>
<rect x="1338.0" y="684" width="4" height="24" fill="#ff0000"/>
<rect x="1345.0" y="684" width="4" height="22" fill="#ff0000"/>
<rect x="1352.0" y="684" width="4" height="20" fill="#ff0000"/>
<rect x="1359.0" y="684" width="4" height="16" fill="#daa520"/>
<rect x="1366.0" y="684" width="4" height="13" fill="#ff0000"/>
<rect x="1373.0" y="684" width="4" height="13" fill="#ff0000"/>
<rect x="1380.0" y="684" width="4" height="14" fill="#ff0000"/>
<rect x="1387.0" y="684" width="4" height="13" fill="#ff0000"/>
<rect x="1394.0" y="684" width="4" height="10" fill="#ff0000"/>
<rect x="1401.0" y="684" width="4" height="7" fill="#daa520"/>
<rect x="1408.0" y="684" width="4" height="2" fill="#daa520"/>
<rect x="1422.0" y="684" width="4" height="1" fill="#ff0000"/>
<rect x="1429.0" y="684" width="4" height="1" fill="#daa520"/>
<rect x="1436.0" y="674" width="4" height="10" fill="#008000"/>
<rect x="1443.0" y="672" width="4" height="12" fill="#008000"/>
<rect x="1450.0" y="673" width="4" height="11" fill="#daa520"/>
<rect x="1457.0" y="674" width="4" height="10" fill="#daa520"/>
<rect x="1464.0" y="676" width="4" height="8" fill="#daa520"/>
<rect x="1471.0" y="677" width="4" height="7" fill="#daa520"/>
<rect x="1478.0" y="673" width="4" height="11" fill="#008000"/>
<rect x="1485.0" y="674" width="4" height="10" fill="#daa520"/>
<rect x="1492.0" y="675" width="4" height="9" fill="#daa520"/>
<rect x="1499.0" y="679" width="4" height="5" fill="#daa520"/>
<rect x="1506.0" y="679" width="4" height="5" fill="#daa520"/>
<rect x="1513.0" y="679" width="4" height="5" fill="#daa520"/>
<rect x="1520.0" y="679" width="4" height="5" fill="#daa520"/>
<rect x="1527.0" y="680" width="4" height="4" fill="#daa520"/>
<rect x="1534.0" y="682" width="4" height="2" fill="#daa520"/>
<rect x="1548.0" y="680" width="4" height="4" fill="#008000"/>
<rect x="1555.0" y="678" width="4" height="6" fill="#008000"/>
<rect x="1562.0" y="676" width="4" height="8" fill="#008000"/>
<rect x="1569.0" y="678" width="4" height="6" fill="#008000"/>
<rect x="1576.0" y="679" width="4" height="5" fill="#daa520"/>
<rect x="1583.0" y="678" width="4" height="6" fill="#008000"/>
<rect x="1597.0" y="684" width="4" height="1" fill="#ff0000"/>
<rect x="1604.0" y="684" width="4" height="4" fill="#ff0000"/>
<rect x="1611.0" y="684" width="4" height="3" fill="#daa520"/>
<rect x="1618.0" y="684" width="4" height="5" fill="#ff0000"/>
<rect x="1625.0" y="684" width="4" height="6" fill="#ff0000"/>
<rect x="1632.0" y="684" width="4" height="5" fill="#daa520"/>
<rect x="1639.0" y="684" width="4" height="7" fill="#ff0000"/>
<rect x="1646.0" y="684" width="4" height="10" fill="#ff0000"/>
<rect x="1653.0" y="684" width="4" height="7" fill="#daa520"/>
<rect x="1660.0" y="684" width="4" height="8" fill="#ff0000"/>
<rect x="1667.0" y="684" width="4" height="15" fill="#ff0000"/>
<rect x="1674.0" y="684" width="4" height="19" fill="#ff0000"/>
<rect x="1681.0" y="684" width="4" height="21" fill="#ff0000"/>
<rect x="1688.0" y="684" width="4" height="21" fill="#ff0000"/>
<rect x="1695.0" y="684" width="4" height="17" fill="#ff0000"/>
<rect x="1702.0" y="684" width="4" height="17" fill="#ff0000"/>
</g>
<path d="M17.7,658.5 C19.9,658.9 26.3,660.1 30.8,660.8 C35.3,661.5 40.2,662.5 44.9,662.9 C49.6,663.3 54.2,663.4 58.9,663.2 C63.6,663.0 68.2,662.2 72.9,661.7 C77.6,661.2 82.3,661.0 87.0,660.3 C91.7,659.6 96.6,658.2 101.0,657.3 C105.4,656.4 109.8,655.6 113.3,655.0 C116.8,654.4 119.2,653.8 122.1,653.6 C125.0,653.5 127.4,653.5 130.9,654.1 C134.4,654.7 138.7,656.2 143.1,657.3 C147.5,658.4 152.5,659.7 157.2,660.8 C161.9,661.9 166.5,662.9 171.2,663.8 C175.9,664.7 180.6,665.4 185.3,666.1 C190.0,666.8 194.6,667.8 199.3,668.2 C204.0,668.6 208.6,668.6 213.3,668.7 C218.0,668.8 222.7,668.5 227.4,669.0 C232.1,669.5 236.7,670.7 241.4,671.7 C246.1,672.7 250.8,673.9 255.5,674.8 C260.2,675.7 266.0,676.4 269.5,676.9 C273.0,677.4 274.2,677.9 276.5,677.8 C278.8,677.7 280.0,677.0 283.5,676.1 C287.0,675.2 292.9,673.5 297.6,672.5 C302.3,671.5 308.5,670.5 311.6,669.9 C314.7,669.3 312.6,669.9 316.0,669.0 C319.4,668.1 326.8,666.4 331.8,664.6 C336.8,662.9 341.1,660.1 345.8,658.5 C350.5,656.9 356.1,655.9 359.9,655.0 C363.7,654.1 365.2,653.4 368.7,653.2 C372.2,653.0 376.5,653.3 380.9,653.6 C385.3,653.9 390.3,654.0 395.0,655.0 C399.7,656.0 404.3,657.6 409.0,659.4 C413.7,661.1 418.4,663.8 423.1,665.5 C427.8,667.2 433.3,668.3 437.1,669.9 C440.9,671.5 442.7,672.4 445.9,675.2 C449.1,678.0 453.2,682.8 456.4,686.6 C459.6,690.4 462.3,694.2 465.2,698.0 C468.1,701.8 471.1,705.8 474.0,709.4 C476.9,713.0 479.8,716.5 482.7,719.9 C485.6,723.3 488.6,726.8 491.5,729.6 C494.4,732.4 497.4,734.4 500.3,736.6 C503.2,738.8 506.2,741.0 509.1,742.7 C512.0,744.5 514.9,745.8 517.8,747.1 C520.7,748.4 523.7,749.4 526.6,750.3 C529.5,751.2 532.5,751.9 535.4,752.4 C538.3,752.9 540.6,753.1 544.1,753.3 C547.6,753.4 552.9,753.4 556.4,753.3 C559.9,753.1 562.3,753.0 565.2,752.4 C568.1,751.8 571.1,751.0 574.0,749.8 C576.9,748.6 579.9,747.3 582.8,745.4 C585.7,743.5 588.6,740.8 591.5,738.4 C594.4,736.0 597.1,733.9 600.3,731.3 C603.5,728.7 607.3,725.4 610.8,722.6 C614.3,719.8 618.0,717.1 621.4,714.7 C624.8,712.4 627.6,710.4 631.0,708.5 C634.4,706.6 636.8,705.9 641.5,703.3 C646.2,700.7 653.8,695.6 659.1,692.7 C664.4,689.8 668.7,687.5 673.1,685.7 C677.5,683.9 681.3,682.9 685.4,681.7 C689.5,680.5 693.3,679.5 697.7,678.7 C702.1,677.9 706.5,677.8 711.8,676.9 C717.1,676.0 723.4,675.3 729.3,673.4 C735.1,671.5 741.0,668.7 746.9,665.5 C752.8,662.3 758.5,657.3 764.4,654.1 C770.2,650.9 776.1,649.0 782.0,646.2 C787.9,643.4 793.6,639.9 799.5,637.4 C805.4,634.9 812.1,632.8 817.1,631.3 C822.1,629.8 825.8,629.0 829.3,628.3 C832.8,627.6 834.6,627.4 838.1,627.3 C841.6,627.2 846.6,627.5 850.4,627.8 C854.2,628.1 856.5,628.7 860.9,629.2 C865.3,629.7 871.7,630.1 876.7,631.0 C881.7,631.9 886.1,633.0 890.8,634.5 C895.5,636.0 899.5,637.6 904.8,639.7 C910.1,641.8 916.7,644.6 922.4,647.1 C928.1,649.6 935.1,653.0 939.0,655.0 C942.9,657.0 942.5,657.5 946.0,659.4 C949.5,661.3 955.1,663.8 960.1,666.4 C965.1,669.0 970.9,672.4 975.9,675.2 C980.9,678.0 985.5,680.9 989.9,683.1 C994.3,685.3 998.1,686.9 1002.2,688.3 C1006.3,689.7 1010.4,690.6 1014.5,691.3 C1018.6,692.0 1023.0,692.3 1026.8,692.4 C1030.6,692.5 1033.2,692.6 1037.3,691.9 C1041.4,691.2 1046.6,689.4 1051.3,688.3 C1056.0,687.2 1060.4,686.4 1065.4,685.4 C1070.4,684.4 1076.2,683.2 1081.2,682.2 C1086.2,681.2 1090.5,680.6 1095.2,679.6 C1099.9,678.6 1104.6,677.3 1109.3,676.1 C1114.0,674.9 1118.6,673.4 1123.3,672.5 C1128.0,671.6 1132.6,671.4 1137.3,670.8 C1142.0,670.2 1146.7,669.6 1151.4,669.0 C1156.1,668.4 1161.0,667.9 1165.4,667.3 C1169.8,666.7 1173.6,666.4 1177.7,665.5 C1181.8,664.6 1185.9,663.1 1190.0,662.0 C1194.1,660.9 1197.9,659.6 1202.3,659.0 C1206.7,658.4 1211.6,658.7 1216.3,658.5 C1221.0,658.3 1225.3,658.6 1230.4,658.0 C1235.5,657.4 1242.5,655.4 1247.0,654.6 C1251.5,653.8 1252.8,653.6 1257.5,653.2 C1262.2,652.8 1269.8,652.7 1275.1,652.0 C1280.4,651.3 1284.1,649.6 1289.1,648.9 C1294.1,648.2 1300.2,647.5 1304.9,647.6 C1309.6,647.7 1312.8,648.0 1317.2,649.4 C1321.6,650.8 1326.6,653.9 1331.3,655.9 C1336.0,657.9 1340.6,659.5 1345.3,661.1 C1350.0,662.7 1354.6,664.2 1359.3,665.5 C1364.0,666.8 1368.4,667.8 1373.4,669.0 C1378.4,670.2 1384.5,671.3 1389.2,672.5 C1393.9,673.7 1397.1,675.5 1401.5,676.1 C1405.9,676.7 1410.8,676.0 1415.5,676.1 C1420.2,676.2 1425.7,676.9 1429.5,676.9 C1433.3,676.9 1434.8,676.7 1438.3,676.1 C1441.8,675.5 1445.6,674.3 1450.6,673.4 C1455.6,672.5 1462.3,671.7 1468.2,670.8 C1474.1,669.9 1479.9,669.0 1485.7,668.2 C1491.5,667.4 1497.5,666.6 1503.3,666.1 C1509.1,665.6 1514.9,665.5 1520.8,665.2 C1526.7,665.0 1533.5,664.8 1538.4,664.6 C1543.3,664.4 1545.3,664.5 1550.2,664.1 C1555.1,663.8 1562.0,662.9 1567.8,662.5 C1573.6,662.1 1580.9,661.8 1585.3,661.7 C1589.7,661.6 1590.0,661.5 1594.1,661.7 C1598.2,661.9 1604.1,662.4 1609.9,662.9 C1615.8,663.4 1623.1,663.8 1629.2,664.6 C1635.3,665.4 1640.9,666.8 1646.7,667.8 C1652.5,668.8 1658.5,669.1 1664.3,670.8 C1670.1,672.5 1675.2,675.3 1681.8,677.8 C1688.4,680.2 1700.4,684.2 1704.1,685.5" fill="none" stroke="#20b2aa" stroke-width="2" stroke-linejoin="round" />
<path d="M17.7,663.8 C19.9,663.9 26.3,664.4 30.8,664.6 C35.3,664.8 41.7,665.0 44.9,665.0 C48.1,665.0 49.1,664.6 50.0,664.5" fill="none" stroke="#ff0000" stroke-width="3" stroke-linejoin="round" stroke-dasharray="9,3" />
<path d="M50.0,664.5 C51.5,664.1 55.1,662.9 58.9,662.0 C62.7,661.1 68.2,660.0 72.9,659.4 C77.6,658.8 83.5,659.1 87.0,658.5 C90.5,657.9 91.7,657.2 94.0,655.9 C96.3,654.6 98.7,651.7 101.0,650.6 C103.3,649.5 105.7,649.2 108.0,649.2 C110.3,649.2 112.7,649.6 115.0,650.3 C117.3,651.0 120.9,652.7 122.1,653.2" fill="none" stroke="#008000" stroke-width="3" stroke-linejoin="round" stroke-dasharray="9,3" />
<path d="M122.1,653.2 C123.3,653.6 126.8,654.5 129.1,655.5 C131.4,656.5 132.6,657.7 136.1,659.4 C139.6,661.1 145.5,663.9 150.2,665.5 C154.9,667.1 160.7,668.3 164.2,669.0 C167.7,669.7 168.9,669.8 171.2,669.6 C173.5,669.4 174.7,667.9 178.2,667.8 C181.7,667.7 187.6,668.4 192.3,669.0 C197.0,669.6 201.9,671.1 206.3,671.3 C210.7,671.4 215.1,670.4 218.6,669.9 C222.1,669.4 224.5,668.4 227.4,668.5 C230.3,668.6 233.3,669.2 236.2,670.8 C239.1,672.3 241.7,676.0 244.9,677.8 C248.1,679.5 252.6,680.9 255.5,681.3 C258.4,681.7 260.2,680.0 262.5,680.1 C264.8,680.2 267.2,682.5 269.5,682.2 C271.8,681.9 275.3,678.9 276.5,678.3" fill="none" stroke="#ff0000" stroke-width="3" stroke-linejoin="round" stroke-dasharray="9,3" />
<path d="M276.5,678.3 C277.7,677.5 281.1,674.9 283.5,673.4 C285.9,671.9 287.1,670.5 290.6,669.0 C294.1,667.5 300.4,665.4 304.6,664.1 C308.8,662.8 312.6,662.0 316.0,661.1 C319.4,660.2 322.2,660.3 324.8,659.0 C327.4,657.7 329.5,654.6 331.8,653.2 C334.1,651.8 335.6,651.2 338.8,650.6 C342.0,650.0 347.3,649.7 351.1,649.4 C354.9,649.1 357.8,648.9 361.6,648.9 C365.4,648.9 371.8,649.3 373.9,649.4" fill="none" stroke="#008000" stroke-width="3" stroke-linejoin="round" stroke-dasharray="9,3" />
<path d="M373.9,649.4 C375.9,650.6 382.7,654.7 386.2,656.8 C389.7,658.9 392.1,660.1 395.0,662.0 C397.9,663.9 400.6,666.3 403.8,668.2 C407.0,670.1 410.8,671.7 414.3,673.4 C417.8,675.1 421.0,677.3 424.8,678.3 C428.6,679.3 434.2,678.1 437.1,679.6 C440.0,681.1 440.6,683.9 442.4,687.5 C444.1,691.1 445.9,697.1 447.6,701.5 C449.4,705.9 450.8,709.7 452.9,713.8 C454.9,717.9 457.6,722.3 459.9,726.1 C462.2,729.9 464.5,733.1 466.9,736.6 C469.2,740.1 471.9,744.6 474.0,747.1 C476.1,749.6 476.3,750.2 479.2,751.5 C482.1,752.8 487.7,753.8 491.5,755.0 C495.3,756.2 498.5,757.6 502.0,758.5 C505.5,759.4 509.1,760.0 512.6,760.3 C516.1,760.6 519.3,760.4 523.1,760.3 C526.9,760.1 531.9,760.1 535.4,759.4 C538.9,758.7 542.6,756.5 544.1,755.9" fill="none" stroke="#ff0000" stroke-width="3" stroke-linejoin="round" stroke-dasharray="9,3" />
<path d="M544.1,755.9 L549.0,752.5" fill="none" stroke="#008000" stroke-width="3" stroke-linejoin="round" stroke-dasharray="9,3" />
<path d="M549.0,752.5 L556.0,753.5" fill="none" stroke="#ff0000" stroke-width="3" stroke-linejoin="round" stroke-dasharray="9,3" />
<path d="M556.0,753.5 C557.0,752.9 559.3,751.6 561.7,749.8 C564.1,748.0 567.9,744.9 570.5,742.7 C573.1,740.5 575.2,739.7 577.5,736.6 C579.8,733.5 582.2,728.1 584.5,724.3 C586.8,720.5 589.1,716.4 591.5,713.8 C593.9,711.2 596.2,709.8 598.6,708.5 C601.0,707.2 603.0,707.5 605.6,705.9 C608.2,704.3 611.5,701.1 614.4,698.9 C617.3,696.7 620.3,694.0 623.1,692.7 C625.9,691.4 628.5,691.6 631.0,691.0 C633.5,690.4 635.4,690.4 638.0,689.2 C640.6,688.0 643.9,685.8 646.8,684.0 C649.7,682.2 652.7,679.9 655.6,678.3 C658.5,676.7 660.9,675.3 664.4,674.3 C667.9,673.3 672.3,672.8 676.7,672.5 C681.1,672.2 686.3,672.2 690.7,672.5 C695.1,672.8 698.9,674.6 703.0,674.3 C707.1,674.0 710.9,672.4 715.3,670.8 C719.7,669.2 725.2,666.9 729.3,664.6 C733.4,662.3 736.3,659.3 739.8,656.8 C743.3,654.3 746.9,652.2 750.4,649.7 C753.9,647.2 756.8,644.3 760.9,641.8 C765.0,639.3 770.2,636.8 774.9,634.8 C779.6,632.8 784.0,631.4 789.0,629.6 C794.0,627.9 800.1,625.5 804.8,624.3 C809.5,623.1 813.3,623.0 817.1,622.5 C820.9,622.0 824.7,621.0 827.6,621.1 C830.5,621.2 832.0,622.4 834.6,623.4 C837.2,624.4 841.9,626.3 843.4,626.9" fill="none" stroke="#008000" stroke-width="3" stroke-linejoin="round" stroke-dasharray="9,3" />
<path d="M843.4,626.9 C845.7,627.4 852.4,628.6 857.4,630.1 C862.4,631.6 868.2,633.6 873.2,635.7 C878.2,637.8 882.0,640.1 887.3,642.7 C892.6,645.3 898.9,648.9 904.8,651.5 C910.6,654.1 917.7,656.6 922.4,658.5 C927.1,660.4 929.8,660.7 932.9,662.9 C936.0,665.1 938.0,669.2 940.8,671.7 C943.6,674.2 946.1,676.2 949.6,677.8 C953.1,679.4 958.0,679.7 961.8,681.3 C965.6,682.9 968.6,685.0 972.4,687.5 C976.2,690.0 980.6,694.5 984.7,696.2 C988.8,698.0 992.8,697.8 996.9,698.0 C1001.0,698.2 1005.1,698.0 1009.2,697.6 C1013.3,697.2 1017.5,696.1 1021.5,695.4 C1025.5,694.7 1031.0,693.9 1032.9,693.6" fill="none" stroke="#ff0000" stroke-width="3" stroke-linejoin="round" stroke-dasharray="9,3" />
<path d="M1032.9,693.6 C1034.8,692.3 1040.9,688.0 1044.3,685.7 C1047.7,683.4 1049.6,680.6 1053.1,679.6 C1056.6,678.6 1060.7,679.8 1065.4,679.6 C1070.1,679.5 1076.5,679.0 1081.2,678.7 C1085.9,678.4 1090.3,679.3 1093.5,677.8 C1096.7,676.3 1097.9,671.8 1100.5,669.9 C1103.1,668.0 1105.5,667.2 1109.3,666.4 C1113.1,665.6 1118.6,665.2 1123.3,665.0 C1128.0,664.8 1135.0,665.0 1137.3,665.0" fill="none" stroke="#008000" stroke-width="3" stroke-linejoin="round" stroke-dasharray="9,3" />
<path d="M1137.3,665.0 L1144.4,670.8" fill="none" stroke="#ff0000" stroke-width="3" stroke-linejoin="round" stroke-dasharray="9,3" />
<path d="M1144.4,670.8 C1145.6,670.2 1147.9,668.5 1151.4,667.3 C1154.9,666.1 1161.6,664.8 1165.4,663.8 C1169.2,662.8 1171.6,662.3 1174.2,661.1 C1176.8,659.9 1178.3,658.0 1181.2,656.8 C1184.1,655.6 1188.2,654.2 1191.7,653.8 C1195.2,653.3 1198.8,653.8 1202.3,654.1 C1205.8,654.4 1209.6,654.9 1212.8,655.5 C1216.0,656.1 1220.1,657.6 1221.6,658.0" fill="none" stroke="#008000" stroke-width="3" stroke-linejoin="round" stroke-dasharray="9,3" />
<path d="M1221.6,658.0 L1228.6,658.3" fill="none" stroke="#ff0000" stroke-width="3" stroke-linejoin="round" stroke-dasharray="9,3" />
<path d="M1228.6,658.3 C1229.5,657.6 1231.9,655.4 1233.9,654.1 C1236.0,652.8 1238.4,651.2 1240.9,650.3 C1243.4,649.4 1245.7,648.9 1248.8,648.9 C1251.9,648.9 1255.8,650.1 1259.3,650.3 C1262.8,650.5 1266.9,651.0 1269.8,650.3 C1272.7,649.6 1274.3,647.2 1276.9,646.2 C1279.5,645.2 1282.4,644.6 1285.6,644.5 C1288.8,644.4 1293.0,645.2 1296.2,645.3 C1299.4,645.4 1303.5,645.3 1304.9,645.3" fill="none" stroke="#008000" stroke-width="3" stroke-linejoin="round" stroke-dasharray="9,3" />
<path d="M1304.9,645.3 C1306.7,646.5 1312.0,649.5 1315.5,652.4 C1319.0,655.3 1322.2,660.0 1326.0,662.9 C1329.8,665.8 1334.2,668.0 1338.3,669.9 C1342.4,671.8 1345.9,673.4 1350.6,674.3 C1355.3,675.2 1361.4,674.5 1366.4,675.2 C1371.4,675.9 1376.0,677.8 1380.4,678.7 C1384.8,679.6 1389.2,680.5 1392.7,680.8 C1396.2,681.1 1397.7,681.1 1401.5,680.4 C1405.3,679.7 1411.7,677.1 1415.5,676.6 C1419.3,676.1 1421.7,677.4 1424.3,677.5 C1426.9,677.6 1430.1,677.5 1431.3,677.5" fill="none" stroke="#ff0000" stroke-width="3" stroke-linejoin="round" stroke-dasharray="9,3" />
<path d="M1431.3,677.5 C1432.5,676.7 1435.1,674.1 1438.3,672.5 C1441.5,670.9 1445.0,668.6 1450.6,667.8 C1456.2,667.0 1466.7,668.4 1471.7,667.8 C1476.7,667.2 1476.6,665.0 1480.4,664.3 C1484.2,663.6 1489.2,663.8 1494.5,663.8 C1499.8,663.8 1506.2,664.2 1512.0,664.3 C1517.8,664.4 1525.5,664.3 1529.6,664.3 C1533.7,664.3 1535.3,664.3 1536.5,664.3" fill="none" stroke="#008000" stroke-width="3" stroke-linejoin="round" stroke-dasharray="9,3" />
<path d="M1536.5,664.3 L1543.5,665.0" fill="none" stroke="#ff0000" stroke-width="3" stroke-linejoin="round" stroke-dasharray="9,3" />
<path d="M1543.5,665.0 C1544.4,664.8 1546.6,664.4 1548.9,663.8 C1551.2,663.1 1553.8,661.8 1557.2,661.1 C1560.6,660.4 1564.8,659.7 1569.5,659.4 C1574.2,659.1 1581.5,659.1 1585.3,659.4 C1589.1,659.7 1591.1,660.8 1592.3,661.1" fill="none" stroke="#008000" stroke-width="3" stroke-linejoin="round" stroke-dasharray="9,3" />
<path d="M1592.3,661.1 C1594.1,661.7 1599.4,663.9 1602.9,664.6 C1606.4,665.3 1609.0,664.5 1613.4,665.2 C1617.8,665.9 1624.2,667.8 1629.2,669.0 C1634.2,670.2 1639.4,671.6 1643.2,672.5 C1647.0,673.4 1649.4,674.1 1652.0,674.3 C1654.6,674.4 1656.7,672.9 1659.0,673.4 C1661.3,673.9 1663.4,675.5 1666.0,677.3 C1668.6,679.1 1672.2,681.9 1674.8,684.0 C1677.4,686.1 1679.2,688.0 1681.8,690.0 C1684.4,692.0 1688.1,694.5 1690.6,696.0 C1693.1,697.5 1694.8,698.2 1697.0,699.0 C1699.2,699.8 1702.8,700.7 1704.0,701.0" fill="none" stroke="#ff0000" stroke-width="3" stroke-linejoin="round" stroke-dasharray="9,3" />
<circle cx="45.5" cy="682.2" r="4" fill="#6495ed" stroke="#000" stroke-width="1"/>
<circle cx="66.5" cy="675.2" r="4" fill="#6495ed" stroke="#000" stroke-width="1"/>
<circle cx="108.5" cy="670.3" r="4" fill="#6495ed" stroke="#000" stroke-width="1"/>
<circle cx="227.5" cy="681.7" r="4" fill="#6495ed" stroke="#000" stroke-width="1"/>
<circle cx="255.5" cy="696.6" r="4" fill="#6495ed" stroke="#000" stroke-width="1"/>
<circle cx="290.5" cy="667.6" r="4" fill="#6495ed" stroke="#000" stroke-width="1"/>
<circle cx="332.5" cy="658.5" r="4" fill="#6495ed" stroke="#000" stroke-width="1"/>
<circle cx="472.5" cy="755.6" r="4" fill="#6495ed" stroke="#000" stroke-width="1"/>
<circle cx="535.5" cy="692.4" r="4" fill="#6495ed" stroke="#000" stroke-width="1"/>
<circle cx="563.5" cy="672.5" r="4" fill="#6495ed" stroke="#000" stroke-width="1"/>
<circle cx="661.5" cy="652.4" r="4" fill="#6495ed" stroke="#000" stroke-width="1"/>
<circle cx="745.5" cy="652.4" r="4" fill="#6495ed" stroke="#000" stroke-width="1"/>
<circle cx="759.5" cy="649.4" r="4" fill="#6495ed" stroke="#000" stroke-width="1"/>
<circle cx="787.5" cy="655.3" r="4" fill="#6495ed" stroke="#000" stroke-width="1"/>
<circle cx="829.5" cy="672.5" r="4" fill="#6495ed" stroke="#000" stroke-width="1"/>
<circle cx="871.5" cy="692.4" r="4" fill="#6495ed" stroke="#000" stroke-width="1"/>
<circle cx="948.5" cy="717.3" r="4" fill="#6495ed" stroke="#000" stroke-width="1"/>
<circle cx="983.5" cy="716.8" r="4" fill="#6495ed" stroke="#000" stroke-width="1"/>
<circle cx="1102.5" cy="662.5" r="4" fill="#6495ed" stroke="#000" stroke-width="1"/>
<circle cx="1179.5" cy="665.2" r="4" fill="#6495ed" stroke="#000" stroke-width="1"/>
<circle cx="1235.5" cy="668.5" r="4" fill="#6495ed" stroke="#000" stroke-width="1"/>
<circle cx="1277.5" cy="670.3" r="4" fill="#6495ed" stroke="#000" stroke-width="1"/>
<circle cx="1445.5" cy="669.4" r="4" fill="#6495ed" stroke="#000" stroke-width="1"/>
<circle cx="1571.5" cy="676.6" r="4" fill="#6495ed" stroke="#000" stroke-width="1"/>
<circle cx="1592.5" cy="683.4" r="4" fill="#6495ed" stroke="#000" stroke-width="1"/>
<circle cx="1683.5" cy="708.5" r="4" fill="#6495ed" stroke="#000" stroke-width="1"/>
<circle cx="1697.5" cy="703.3" r="4" fill="#6495ed" stroke="#000" stroke-width="1"/>
</g>
<g id="heat">
<rect x="111.5" y="780.3" width="56.0" height="13" fill="#808080"/>
<rect x="167.5" y="780.3" width="7.0" height="13" fill="#008000"/>
<rect x="174.5" y="780.3" width="28.0" height="13" fill="#808080"/>
<rect x="202.5" y="780.3" width="28.0" height="13" fill="#008000"/>
<rect x="230.5" y="780.3" width="7.0" height="13" fill="#0000FF"/>
<rect x="237.5" y="780.3" width="28.0" height="13" fill="#FF0000"/>
<rect x="265.5" y="780.3" width="168.0" height="13" fill="#008000"/>
<rect x="433.5" y="780.3" width="7.0" height="13" fill="#0000FF"/>
<rect x="440.5" y="780.3" width="133.0" height="13" fill="#FF0000"/>
<rect x="573.5" y="780.3" width="175.0" height="13" fill="#808080"/>
<rect x="748.5" y="780.3" width="182.0" height="13" fill="#008000"/>
<rect x="930.5" y="780.3" width="238.0" height="13" fill="#808080"/>
<rect x="1168.5" y="780.3" width="147.0" height="13" fill="#008000"/>
<rect x="1315.5" y="780.3" width="112.0" height="13" fill="#808080"/>
<rect x="1427.5" y="780.3" width="231.0" height="13" fill="#008000"/>
<rect x="1658.5" y="780.3" width="42.0" height="13" fill="#808080"/>
<rect x="113.5" y="806.6" width="42.0" height="9.8" fill="#FF0000"/>
<rect x="155.5" y="806.6" width="28.0" height="9.8" fill="#008000"/>
<rect x="183.5" y="806.6" width="21.0" height="9.8" fill="#FF0000"/>
<rect x="204.5" y="806.6" width="28.0" height="9.8" fill="#008000"/>
<rect x="232.5" y="806.6" width="35.0" height="9.8" fill="#FF0000"/>
<rect x="267.5" y="806.6" width="168.0" height="9.8" fill="#008000"/>
<rect x="435.5" y="806.6" width="210.0" height="9.8" fill="#FF0000"/>
<rect x="645.5" y="806.6" width="287.0" height="9.8" fill="#008000"/>
<rect x="932.5" y="806.6" width="238.0" height="9.8" fill="#FF0000"/>
<rect x="1170.5" y="806.6" width="147.0" height="9.8" fill="#008000"/>
<rect x="1317.5" y="806.6" width="112.0" height="9.8" fill="#FF0000"/>
<rect x="1429.5" y="806.6" width="231.0" height="9.8" fill="#008000"/>
<rect x="1660.5" y="806.6" width="42.0" height="9.8" fill="#FF0000"/>
<rect x="113.5" y="825.6" width="56.0" height="10" fill="#FF0000"/>
<rect x="169.5" y="825.6" width="7.0" height="10" fill="#008000"/>
<rect x="176.5" y="825.6" width="28.0" height="10" fill="#FF0000"/>
<rect x="204.5" y="825.6" width="28.0" height="10" fill="#008000"/>
<rect x="232.5" y="825.6" width="35.0" height="10" fill="#FF0000"/>
<rect x="267.5" y="825.6" width="168.0" height="10" fill="#008000"/>
<rect x="435.5" y="825.6" width="140.0" height="10" fill="#FF0000"/>
<rect x="575.5" y="825.6" width="357.0" height="10" fill="#008000"/>
<rect x="932.5" y="825.6" width="210.0" height="10" fill="#FF0000"/>
<rect x="1142.5" y="825.6" width="175.0" height="10" fill="#008000"/>
<rect x="1317.5" y="825.6" width="112.0" height="10" fill="#FF0000"/>
<rect x="1429.5" y="825.6" width="273.0" height="10" fill="#008000"/>
<rect x="113.5" y="845.3" width="119.0" height="9.2" fill="#008000"/>
<rect x="232.5" y="845.3" width="35.0" height="9.2" fill="#FF0000"/>
<rect x="267.5" y="845.3" width="168.0" height="9.2" fill="#008000"/>
<rect x="435.5" y="845.3" width="315.0" height="9.2" fill="#FF0000"/>
<rect x="750.5" y="845.3" width="952.0" height="9.2" fill="#008000"/>
</g>
<rect x="1192" y="60" width="1" height="795" fill="#000" shape-rendering="crispEdges"/>
<g shape-rendering="crispEdges">
<rect x="8" y="607" width="1779" height="1" fill="#000"/>
<rect x="8" y="774" width="1779" height="1" fill="#000"/>
<rect x="1711" y="60" width="1" height="796" fill="#000"/>
<rect x="8" y="854" width="1704" height="2" fill="#000"/>
<rect x="136.0" y="856" width="1" height="5" fill="#000"/>
<rect x="304.0" y="856" width="1" height="5" fill="#000"/>
<rect x="472.0" y="856" width="1" height="5" fill="#000"/>
<rect x="640.0" y="856" width="1" height="5" fill="#000"/>
<rect x="808.0" y="856" width="1" height="5" fill="#000"/>
<rect x="1011.0" y="856" width="1" height="5" fill="#000"/>
<rect x="1179.0" y="856" width="1" height="5" fill="#000"/>
<rect x="1347.0" y="856" width="1" height="5" fill="#000"/>
<rect x="1515.0" y="856" width="1" height="5" fill="#000"/>
<rect x="1683.0" y="856" width="1" height="5" fill="#000"/>
<rect x="836.0" y="856" width="1" height="5" fill="#000"/>
<rect x="843.0" y="856" width="1" height="5" fill="#000"/>
<rect x="1712" y="86" width="6" height="1" fill="#000"/>
<rect x="1712" y="126" width="6" height="1" fill="#000"/>
<rect x="1712" y="165" width="6" height="1" fill="#000"/>
<rect x="1712" y="205" width="6" height="1" fill="#000"/>
<rect x="1712" y="244" width="6" height="1" fill="#000"/>
<rect x="1712" y="284" width="6" height="1" fill="#000"/>
<rect x="1712" y="323" width="6" height="1" fill="#000"/>
<rect x="1712" y="363" width="6" height="1" fill="#000"/>
<rect x="1712" y="402" width="6" height="1" fill="#000"/>
<rect x="1712" y="442" width="6" height="1" fill="#000"/>
<rect x="1712" y="481" width="6" height="1" fill="#000"/>
<rect x="1712" y="521" width="6" height="1" fill="#000"/>
<rect x="1712" y="560" width="6" height="1" fill="#000"/>
<rect x="1712" y="600" width="6" height="1" fill="#000"/>
<rect x="1712" y="627" width="6" height="1" fill="#000"/>
<rect x="1712" y="655" width="6" height="1" fill="#000"/>
<rect x="1712" y="710" width="6" height="1" fill="#000"/>
<rect x="1712" y="738" width="6" height="1" fill="#000"/>
<rect x="1712" y="766" width="6" height="1" fill="#000"/>
</g>
<text x="1719.4" y="91" font-size="11" fill="#000" textLength="32" lengthAdjust="spacingAndGlyphs" >1,3640</text>
<text x="1719.4" y="131" font-size="11" fill="#000" textLength="32" lengthAdjust="spacingAndGlyphs" >1,3620</text>
<text x="1719.4" y="170" font-size="11" fill="#000" textLength="32" lengthAdjust="spacingAndGlyphs" >1,3600</text>
<text x="1719.4" y="210" font-size="11" fill="#000" textLength="32" lengthAdjust="spacingAndGlyphs" >1,3580</text>
<text x="1719.4" y="249" font-size="11" fill="#000" textLength="32" lengthAdjust="spacingAndGlyphs" >1,3560</text>
<text x="1719.4" y="289" font-size="11" fill="#000" textLength="32" lengthAdjust="spacingAndGlyphs" >1,3540</text>
<text x="1719.4" y="328" font-size="11" fill="#000" textLength="32" lengthAdjust="spacingAndGlyphs" >1,3520</text>
<text x="1719.4" y="368" font-size="11" fill="#000" textLength="32" lengthAdjust="spacingAndGlyphs" >1,3500</text>
<text x="1719.4" y="407" font-size="11" fill="#000" textLength="32" lengthAdjust="spacingAndGlyphs" >1,3480</text>
<text x="1719.4" y="447" font-size="11" fill="#000" textLength="32" lengthAdjust="spacingAndGlyphs" >1,3460</text>
<text x="1719.4" y="486" font-size="11" fill="#000" textLength="32" lengthAdjust="spacingAndGlyphs" >1,3440</text>
<text x="1719.4" y="526" font-size="11" fill="#000" textLength="32" lengthAdjust="spacingAndGlyphs" >1,3420</text>
<text x="1719.4" y="565" font-size="11" fill="#000" textLength="32" lengthAdjust="spacingAndGlyphs" >1,3400</text>
<text x="1719.4" y="605" font-size="11" fill="#000" textLength="32" lengthAdjust="spacingAndGlyphs" >1,3380</text>
<text x="1719" y="632" font-size="11" fill="#000" textLength="26.5" lengthAdjust="spacingAndGlyphs" >0,002</text>
<text x="1719" y="660" font-size="11" fill="#000" textLength="26.5" lengthAdjust="spacingAndGlyphs" >0,001</text>
<text x="1719" y="715" font-size="11" fill="#000" textLength="30.2" lengthAdjust="spacingAndGlyphs" >-0,001</text>
<text x="1719" y="743" font-size="11" fill="#000" textLength="30.2" lengthAdjust="spacingAndGlyphs" >-0,002</text>
<text x="1719" y="771" font-size="11" fill="#000" textLength="30.2" lengthAdjust="spacingAndGlyphs" >-0,003</text>
<text x="136.5" y="872.2" font-size="11" fill="#000" text-anchor="middle" textLength="26.6" lengthAdjust="spacingAndGlyphs" >11/19</text>
<text x="304.5" y="872.2" font-size="11" fill="#000" text-anchor="middle" textLength="26.6" lengthAdjust="spacingAndGlyphs" >11/20</text>
<text x="472.5" y="872.2" font-size="11" fill="#000" text-anchor="middle" textLength="26.6" lengthAdjust="spacingAndGlyphs" >11/21</text>
<text x="640.5" y="872.2" font-size="11" fill="#000" text-anchor="middle" textLength="26.6" lengthAdjust="spacingAndGlyphs" >11/22</text>
<text x="808.5" y="872.2" font-size="11" fill="#000" text-anchor="middle" textLength="26.6" lengthAdjust="spacingAndGlyphs" >11/23</text>
<text x="1011.5" y="872.2" font-size="11" fill="#000" text-anchor="middle" textLength="26.6" lengthAdjust="spacingAndGlyphs" >11/26</text>
<text x="1179.5" y="872.2" font-size="11" fill="#000" text-anchor="middle" textLength="26.6" lengthAdjust="spacingAndGlyphs" >11/27</text>
<text x="1347.5" y="872.2" font-size="11" fill="#000" text-anchor="middle" textLength="26.6" lengthAdjust="spacingAndGlyphs" >11/28</text>
<text x="1515.5" y="872.2" font-size="11" fill="#000" text-anchor="middle" textLength="26.6" lengthAdjust="spacingAndGlyphs" >11/29</text>
<text x="1683.5" y="872.2" font-size="11" fill="#000" text-anchor="middle" textLength="26.6" lengthAdjust="spacingAndGlyphs" >11/30</text>
<rect x="1177" y="861" width="31" height="13" fill="#d3d3d3" shape-rendering="crispEdges"/>
<text x="1179.2" y="872.2" font-size="11" fill="#000" textLength="26.5" lengthAdjust="spacingAndGlyphs" >02:00</text>
<text x="11.6" y="71.2" font-size="11" fill="#000" textLength="124.8" lengthAdjust="spacingAndGlyphs" >eVoTP_EntriesAlgorithm</text>
<text x="137.4" y="71.2" font-size="11" fill="#000" textLength="54.1" lengthAdjust="spacingAndGlyphs" >($EURUSD</text>
<text x="195.5" y="71.2" font-size="11" fill="#000" textLength="15.1" lengthAdjust="spacingAndGlyphs" >(60</text>
<text x="214.6" y="71.2" font-size="11" fill="#000" textLength="27.1" lengthAdjust="spacingAndGlyphs" >Min)),</text>
<text x="245.6" y="71.2" font-size="11" fill="#000" textLength="171.9" lengthAdjust="spacingAndGlyphs" >eVoTP_CrossAndMarketDirection</text>
<text x="418.5" y="71.2" font-size="11" fill="#000" textLength="49.1" lengthAdjust="spacingAndGlyphs" >($EURUSD</text>
<text x="471.6" y="71.2" font-size="11" fill="#000" textLength="13.5" lengthAdjust="spacingAndGlyphs" >(60</text>
<text x="487.7" y="71.2" font-size="11" fill="#000" textLength="22.1" lengthAdjust="spacingAndGlyphs" >Min))</text>
<text x="12" y="628.7" font-size="11" fill="#000" textLength="277.7" lengthAdjust="spacingAndGlyphs" >eVoTP_CustomMACD($EURUSD (60 Min),12,1,30,26,9)</text>
<text x="11.6" y="795.8" font-size="11" fill="#000" textLength="142.2" lengthAdjust="spacingAndGlyphs" >eVoTP_TrendHeatDetection</text>
<text x="154.4" y="795.8" font-size="11" fill="#000" textLength="54.8" lengthAdjust="spacingAndGlyphs" >($EURUSD</text>
<text x="213" y="795.8" font-size="11" fill="#000" textLength="15.2" lengthAdjust="spacingAndGlyphs" >(60</text>
<text x="230.6" y="795.8" font-size="11" fill="#000" textLength="119.4" lengthAdjust="spacingAndGlyphs" >Min),14,2,618,14,42,280)</text>
<text x="11.3" y="852.7" font-size="11" fill="#000" textLength="123.3" lengthAdjust="spacingAndGlyphs" >© 2013 NinjaTrader, LLC</text>
<path d="M1712.5,161.2 L1718.5,154.7 H1755 V167.7 H1718.5 Z" fill="#000" stroke="#000" stroke-width="1"/>
<text x="1719.4" y="165.4" font-size="11" fill="#fff" textLength="32" lengthAdjust="spacingAndGlyphs" >1,3602</text>
<path d="M1712.5,177.4 L1718.5,170.9 H1755 V183.9 H1718.5 Z" fill="#ff0000" stroke="#ff0000" stroke-width="1"/>
<text x="1719.4" y="181.6" font-size="11" fill="#fff" textLength="32" lengthAdjust="spacingAndGlyphs" >1,3594</text>
<path d="M1712.5,191.3 L1718.5,184.8 H1755 V197.8 H1718.5 Z" fill="#000" stroke="#000" stroke-width="1"/>
<text x="1719.4" y="195.5" font-size="11" fill="#fff" textLength="32" lengthAdjust="spacingAndGlyphs" >1,3587</text>
<path d="M1712.5,692.5 L1718.5,686.0 H1770.5 V699.0 H1718.5 Z" fill="#ff0000" stroke="#c00000" stroke-width="1"/>
<text x="1719.4" y="696.7" font-size="11" fill="#fff" textLength="50" lengthAdjust="spacingAndGlyphs" >-0,000552</text>
<path d="M1712.5,685 L1718.5,678.5 H1777 V691.5 H1718.5 Z" fill="#20b2aa" stroke="#1a3a3a" stroke-width="1"/>
<text x="1719.4" y="689.2" font-size="11" fill="#000" textLength="56" lengthAdjust="spacingAndGlyphs" >-0,0000936</text>
<path d="M1712.5,701.5 L1718.5,695.0 H1770.5 V708.0 H1718.5 Z" fill="#ff0000" stroke="#c00000" stroke-width="1"/>
<text x="1719.4" y="705.7" font-size="11" fill="#fff" textLength="50" lengthAdjust="spacingAndGlyphs" >-0,000646</text>
<path d="M1712.5,783 L1718.5,776.5 H1735.5 V789.5 H1718.5 Z" fill="#808080" stroke="#000" stroke-width="1"/>
<text x="1719.4" y="787.2" font-size="11" fill="#111" textLength="15" lengthAdjust="spacingAndGlyphs" >1,7</text>
<path d="M1712.5,811 L1718.5,804.5 H1727 V817.5 H1718.5 Z" fill="#ff0000" stroke="#c00000" stroke-width="1"/>
<text x="1720" y="815.2" font-size="11" fill="#fff" >1</text>
<path d="M1712.5,830 L1718.5,823.5 H1735.5 V836.5 H1718.5 Z" fill="#008000" stroke="#000" stroke-width="1"/>
<text x="1719.4" y="834.2" font-size="11" fill="#fff" textLength="15" lengthAdjust="spacingAndGlyphs" >0,5</text>
<path d="M1712.5,849.5 L1718.5,843.0 H1727 V856.0 H1718.5 Z" fill="#008000" stroke="#000" stroke-width="1"/>
<text x="1720" y="853.7" font-size="11" fill="#fff" >0</text>
<path d="M1712.5,855 L1718.5,848.5 H1783 V861.5 H1718.5 Z" fill="#d3d3d3" stroke="#000" stroke-width="1"/>
<text x="1719.4" y="859.2" font-size="11" fill="#111" textLength="33.5" lengthAdjust="spacingAndGlyphs" >-0,105</text>
<clipPath id="clipSh"><path clip-rule="evenodd" d="M1240,380H1700V560H1240Z M1249,386H1681V548H1249Z"/></clipPath>
<g clip-path="url(#clipSh)"><rect x="1253" y="390" width="431.5" height="161" fill="#000" opacity="0.25" filter="url(#blur1)"/></g>
<rect x="1249.5" y="386.5" width="431" height="161" fill="#fff" fill-opacity="0.94" stroke="#5a5a5a" stroke-width="1" shape-rendering="crispEdges"/>
<text x="1462.5" y="426.5" font-size="19.8" fill="#757575" text-anchor="middle" textLength="363.5" lengthAdjust="spacingAndGlyphs" font-weight="bold" font-style="italic" >www.trading-software-collection.com</text>
<text x="1462.5" y="472" font-size="19.8" fill="#757575" text-anchor="middle" textLength="223.5" lengthAdjust="spacingAndGlyphs" font-weight="bold" font-style="italic" >andreybbrv@gmail.com</text>
<text x="1462.5" y="518.3" font-size="19.8" fill="#757575" text-anchor="middle" textLength="176.3" lengthAdjust="spacingAndGlyphs" font-weight="bold" font-style="italic" >skype: andreybbrv</text>
<rect x="1547.5" y="581.5" width="158" height="16" fill="#ff8080" stroke="#ff0000" stroke-width="1" shape-rendering="crispEdges"/>
<text x="1549.5" y="593.7" font-size="13.3" fill="#000" textLength="148.5" lengthAdjust="spacingAndGlyphs" >Market Direction: Bearish</text>
<rect x="8" y="883" width="1779" height="23" fill="#f0f0f0" shape-rendering="crispEdges"/>
<rect x="8" y="883" width="1779" height="1" fill="#e2e2e2" shape-rendering="crispEdges"/>
<rect x="195.5" y="883.5" width="1573" height="21" rx="2.5" fill="url(#gThumb)" stroke="#979797" stroke-width="1"/>
<path d="M979.5,890V898 M981.5,890V898 M983.5,890V898 M985.5,890V898" stroke="#5a5a5a" stroke-width="1" shape-rendering="crispEdges"/>
<path d="M19,889.8 L15,893.4 L19,897 Z" fill="#404040"/>
<path d="M1777,889.8 L1781,893.4 L1777,897 Z" fill="#303030"/>
</svg>
</body></html>
